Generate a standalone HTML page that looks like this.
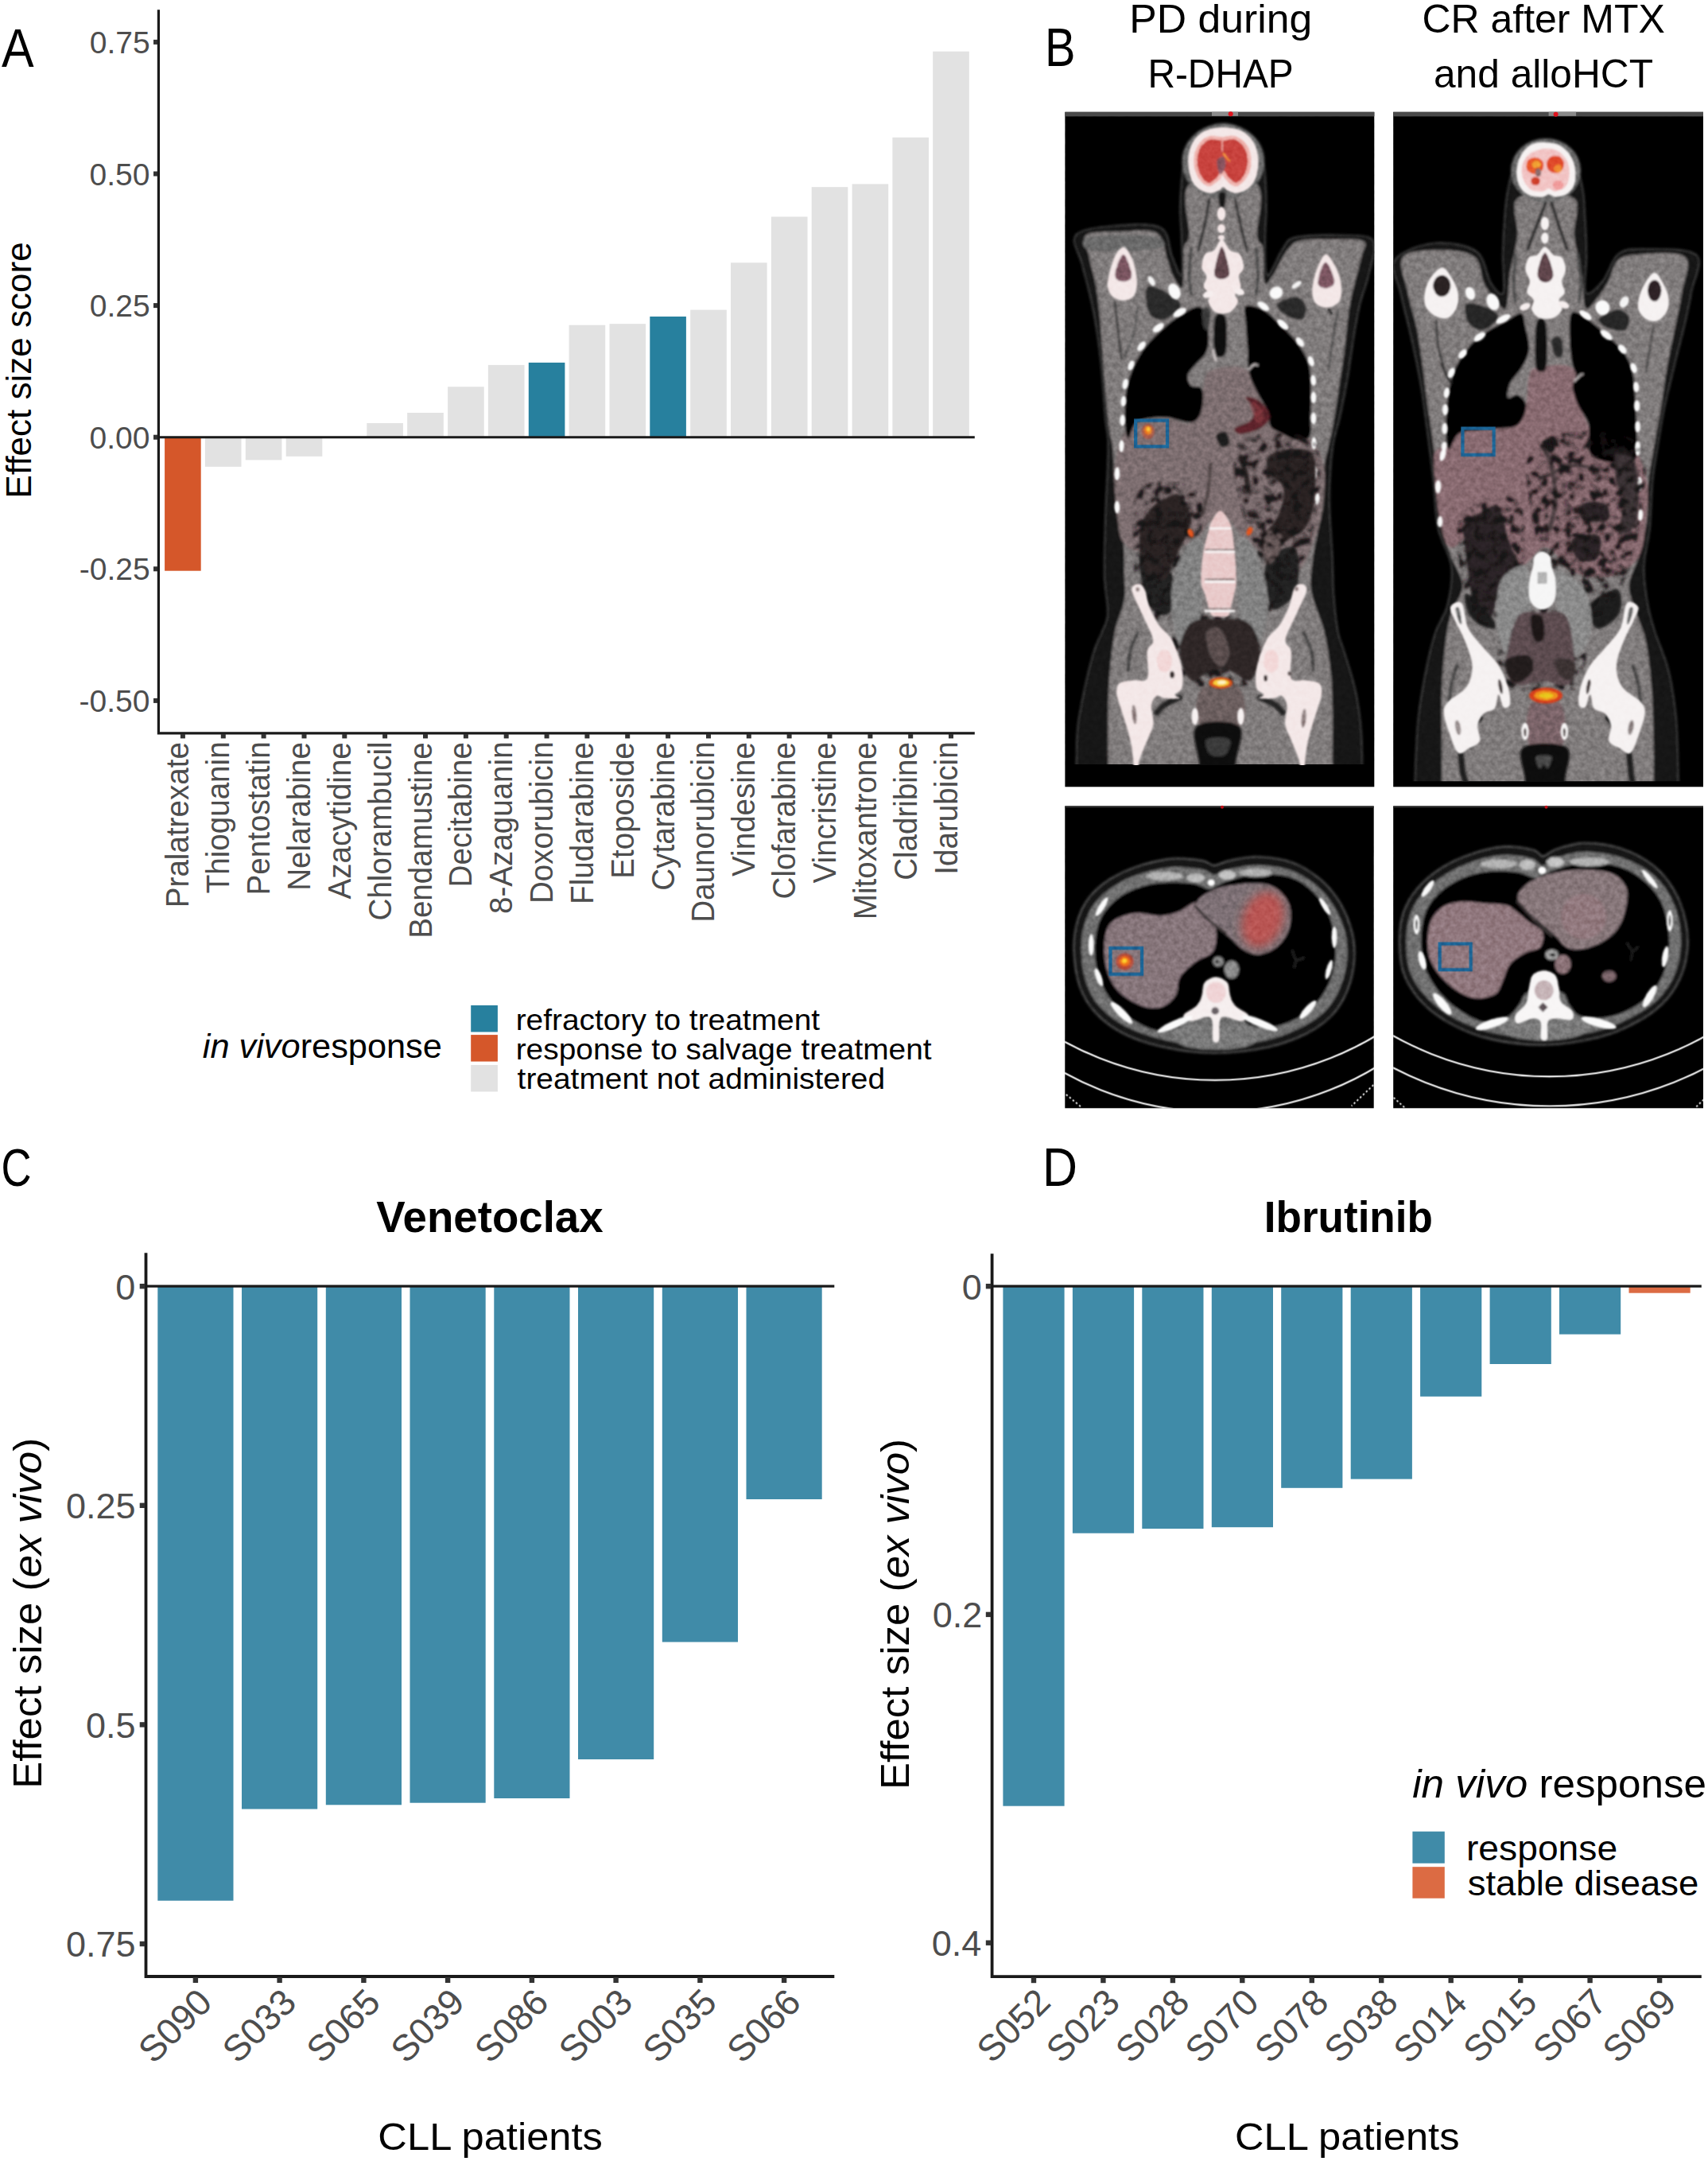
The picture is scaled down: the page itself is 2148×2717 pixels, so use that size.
<!DOCTYPE html>
<html lang="en"><head><meta charset="utf-8"><title>Figure</title>
<style>
html,body{margin:0;padding:0;background:#fff;}
body{width:2148px;height:2717px;overflow:hidden;}
svg{display:block;}
svg text{font-family:"Liberation Sans", Arial, sans-serif;}
</style></head><body>
<svg width="2148" height="2717" viewBox="0 0 2148 2717">
<rect width="2148" height="2717" fill="#fff"/>
<g id="panelA">
<rect x="207.1" y="549.7" width="45.6" height="168.0" fill="#d5572a"/>
<rect x="257.9" y="549.7" width="45.6" height="37.1" fill="#e2e2e2"/>
<rect x="308.8" y="549.7" width="45.6" height="28.7" fill="#e2e2e2"/>
<rect x="359.7" y="549.7" width="45.6" height="24.1" fill="#e2e2e2"/>
<rect x="461.3" y="532.0" width="45.6" height="17.7" fill="#e2e2e2"/>
<rect x="512.2" y="519.0" width="45.6" height="30.7" fill="#e2e2e2"/>
<rect x="563.1" y="486.3" width="45.6" height="63.4" fill="#e2e2e2"/>
<rect x="613.9" y="458.9" width="45.6" height="90.8" fill="#e2e2e2"/>
<rect x="664.8" y="455.9" width="45.6" height="93.8" fill="#27809e"/>
<rect x="715.6" y="408.7" width="45.6" height="141.0" fill="#e2e2e2"/>
<rect x="766.5" y="407.2" width="45.6" height="142.5" fill="#e2e2e2"/>
<rect x="817.3" y="398.0" width="45.6" height="151.7" fill="#27809e"/>
<rect x="868.2" y="389.6" width="45.6" height="160.1" fill="#e2e2e2"/>
<rect x="919.0" y="330.3" width="45.6" height="219.4" fill="#e2e2e2"/>
<rect x="969.9" y="272.5" width="45.6" height="277.2" fill="#e2e2e2"/>
<rect x="1020.7" y="235.2" width="45.6" height="314.5" fill="#e2e2e2"/>
<rect x="1071.6" y="231.4" width="45.6" height="318.3" fill="#e2e2e2"/>
<rect x="1122.4" y="172.8" width="45.6" height="376.9" fill="#e2e2e2"/>
<rect x="1173.2" y="64.7" width="45.6" height="485.0" fill="#e2e2e2"/>
<path d="M199.4 12.3 V921.8 H1225.8" fill="none" stroke="#1a1a1a" stroke-width="3.2"/>
<path d="M199.4 549.7 H1225.8" fill="none" stroke="#1a1a1a" stroke-width="3"/>
<rect x="193" y="49.9" width="5" height="6" fill="#333333"/>
<text transform="translate(112.70 67.00) scale(1.0000 1)" font-size="39" fill="#4d4d4d">0.75</text>
<rect x="193" y="215.5" width="5" height="6" fill="#333333"/>
<text transform="translate(112.59 232.60) scale(1.0000 1)" font-size="39" fill="#4d4d4d">0.50</text>
<rect x="193" y="381.1" width="5" height="6" fill="#333333"/>
<text transform="translate(112.70 398.20) scale(1.0000 1)" font-size="39" fill="#4d4d4d">0.25</text>
<rect x="193" y="546.7" width="5" height="6" fill="#333333"/>
<text transform="translate(112.59 563.80) scale(1.0000 1)" font-size="39" fill="#4d4d4d">0.00</text>
<rect x="193" y="712.3" width="5" height="6" fill="#333333"/>
<text transform="translate(99.72 729.40) scale(1.0000 1)" font-size="39" fill="#4d4d4d">-0.25</text>
<rect x="193" y="877.9" width="5" height="6" fill="#333333"/>
<text transform="translate(99.60 895.00) scale(1.0000 1)" font-size="39" fill="#4d4d4d">-0.50</text>
<rect x="226.9" y="922.8" width="6" height="5.6" fill="#333333"/>
<text transform="translate(237.40 1141.18) rotate(-90) scale(0.9530 1)" font-size="40.5" fill="#4d4d4d">Pralatrexate</text>
<rect x="277.8" y="922.8" width="6" height="5.6" fill="#333333"/>
<text transform="translate(288.25 1123.31) rotate(-90) scale(0.9530 1)" font-size="40.5" fill="#4d4d4d">Thioguanin</text>
<rect x="328.6" y="922.8" width="6" height="5.6" fill="#333333"/>
<text transform="translate(339.10 1125.43) rotate(-90) scale(0.9530 1)" font-size="40.5" fill="#4d4d4d">Pentostatin</text>
<rect x="379.5" y="922.8" width="6" height="5.6" fill="#333333"/>
<text transform="translate(389.95 1119.75) rotate(-90) scale(0.9530 1)" font-size="40.5" fill="#4d4d4d">Nelarabine</text>
<rect x="430.3" y="922.8" width="6" height="5.6" fill="#333333"/>
<text transform="translate(440.80 1130.48) rotate(-90) scale(0.9530 1)" font-size="40.5" fill="#4d4d4d">Azacytidine</text>
<rect x="481.1" y="922.8" width="6" height="5.6" fill="#333333"/>
<text transform="translate(491.65 1157.46) rotate(-90) scale(0.9530 1)" font-size="40.5" fill="#4d4d4d">Chlorambucil</text>
<rect x="532.0" y="922.8" width="6" height="5.6" fill="#333333"/>
<text transform="translate(542.50 1179.85) rotate(-90) scale(0.9530 1)" font-size="40.5" fill="#4d4d4d">Bendamustine</text>
<rect x="582.9" y="922.8" width="6" height="5.6" fill="#333333"/>
<text transform="translate(593.35 1115.47) rotate(-90) scale(0.9530 1)" font-size="40.5" fill="#4d4d4d">Decitabine</text>
<rect x="633.7" y="922.8" width="6" height="5.6" fill="#333333"/>
<text transform="translate(644.20 1149.05) rotate(-90) scale(0.9530 1)" font-size="40.5" fill="#4d4d4d">8-Azaguanin</text>
<rect x="684.6" y="922.8" width="6" height="5.6" fill="#333333"/>
<text transform="translate(695.05 1136.12) rotate(-90) scale(0.9530 1)" font-size="40.5" fill="#4d4d4d">Doxorubicin</text>
<rect x="735.4" y="922.8" width="6" height="5.6" fill="#333333"/>
<text transform="translate(745.90 1136.93) rotate(-90) scale(0.9530 1)" font-size="40.5" fill="#4d4d4d">Fludarabine</text>
<rect x="786.2" y="922.8" width="6" height="5.6" fill="#333333"/>
<text transform="translate(796.75 1104.78) rotate(-90) scale(0.9530 1)" font-size="40.5" fill="#4d4d4d">Etoposide</text>
<rect x="837.1" y="922.8" width="6" height="5.6" fill="#333333"/>
<text transform="translate(847.60 1119.75) rotate(-90) scale(0.9530 1)" font-size="40.5" fill="#4d4d4d">Cytarabine</text>
<rect x="888.0" y="922.8" width="6" height="5.6" fill="#333333"/>
<text transform="translate(898.45 1159.74) rotate(-90) scale(0.9530 1)" font-size="40.5" fill="#4d4d4d">Daunorubicin</text>
<rect x="938.8" y="922.8" width="6" height="5.6" fill="#333333"/>
<text transform="translate(949.30 1101.92) rotate(-90) scale(0.9530 1)" font-size="40.5" fill="#4d4d4d">Vindesine</text>
<rect x="989.6" y="922.8" width="6" height="5.6" fill="#333333"/>
<text transform="translate(1000.15 1130.48) rotate(-90) scale(0.9530 1)" font-size="40.5" fill="#4d4d4d">Clofarabine</text>
<rect x="1040.5" y="922.8" width="6" height="5.6" fill="#333333"/>
<text transform="translate(1051.00 1110.45) rotate(-90) scale(0.9530 1)" font-size="40.5" fill="#4d4d4d">Vincristine</text>
<rect x="1091.4" y="922.8" width="6" height="5.6" fill="#333333"/>
<text transform="translate(1101.85 1156.23) rotate(-90) scale(0.9530 1)" font-size="40.5" fill="#4d4d4d">Mitoxantrone</text>
<rect x="1142.2" y="922.8" width="6" height="5.6" fill="#333333"/>
<text transform="translate(1152.70 1106.86) rotate(-90) scale(0.9530 1)" font-size="40.5" fill="#4d4d4d">Cladribine</text>
<rect x="1193.0" y="922.8" width="6" height="5.6" fill="#333333"/>
<text transform="translate(1203.55 1099.68) rotate(-90) scale(0.9530 1)" font-size="40.5" fill="#4d4d4d">Idarubicin</text>
<text transform="translate(38.90 626.41) rotate(-90) scale(1.0120 1)" font-size="43.5" fill="#000">Effect size score</text>
<text transform="translate(254.81 1329.80) scale(1.0081 1)" font-size="43" fill="#000"><tspan font-style="italic">in vivo</tspan><tspan>response</tspan></text>
<rect x="592.2" y="1264.0" width="33.7" height="33.5" fill="#27809e"/>
<text transform="translate(648.63 1295.00) scale(1.0599 1)" font-size="36.7" fill="#000">refractory to treatment</text>
<rect x="592.2" y="1301.1" width="33.7" height="33.5" fill="#d5572a"/>
<text transform="translate(648.63 1332.00) scale(1.0599 1)" font-size="36.7" fill="#000">response to salvage treatment</text>
<rect x="592.2" y="1339.0" width="33.7" height="33.5" fill="#e2e2e2"/>
<text transform="translate(650.62 1369.00) scale(1.0599 1)" font-size="36.7" fill="#000">treatment not administered</text>
<text x="2" y="83.6" font-size="68.5" fill="#000" textLength="40.6" lengthAdjust="spacingAndGlyphs">A</text>
</g>
<g id="panelC">
<rect x="198.3" y="1617.2" width="95.2" height="772.5" fill="#408ba8"/>
<rect x="304.0" y="1617.2" width="95.2" height="657.3" fill="#408ba8"/>
<rect x="409.8" y="1617.2" width="95.2" height="652.1" fill="#408ba8"/>
<rect x="515.5" y="1617.2" width="95.2" height="649.5" fill="#408ba8"/>
<rect x="621.3" y="1617.2" width="95.2" height="643.8" fill="#408ba8"/>
<rect x="727.0" y="1617.2" width="95.2" height="594.8" fill="#408ba8"/>
<rect x="832.8" y="1617.2" width="95.2" height="447.3" fill="#408ba8"/>
<rect x="938.5" y="1617.2" width="95.2" height="267.8" fill="#408ba8"/>
<path d="M183.5 1575.2 V2485.0 H1049.3" fill="none" stroke="#1a1a1a" stroke-width="3.8"/>
<path d="M183.5 1617.2 H1049.3" fill="none" stroke="#1a1a1a" stroke-width="3.3"/>
<rect x="175.7" y="1614.0" width="6.5" height="6.4" fill="#333333"/>
<text transform="translate(145.29 1633.50) scale(1.0000 1)" font-size="45" fill="#4d4d4d">0</text>
<rect x="175.7" y="1889.6" width="6.5" height="6.4" fill="#333333"/>
<text transform="translate(82.88 1909.10) scale(1.0000 1)" font-size="45" fill="#4d4d4d">0.25</text>
<rect x="175.7" y="2165.2" width="6.5" height="6.4" fill="#333333"/>
<text transform="translate(107.89 2184.70) scale(1.0000 1)" font-size="45" fill="#4d4d4d">0.5</text>
<rect x="175.7" y="2440.8" width="6.5" height="6.4" fill="#333333"/>
<text transform="translate(82.88 2460.30) scale(1.0000 1)" font-size="45" fill="#4d4d4d">0.75</text>
<rect x="242.7" y="2486.0" width="6.4" height="7" fill="#333333"/>
<text transform="translate(193.19 2596.21) rotate(-45) scale(1.0000 1)" font-size="46" fill="#4d4d4d">S090</text>
<rect x="348.4" y="2486.0" width="6.4" height="7" fill="#333333"/>
<text transform="translate(299.10 2596.05) rotate(-45) scale(1.0000 1)" font-size="46" fill="#4d4d4d">S033</text>
<rect x="454.2" y="2486.0" width="6.4" height="7" fill="#333333"/>
<text transform="translate(404.78 2596.12) rotate(-45) scale(1.0000 1)" font-size="46" fill="#4d4d4d">S065</text>
<rect x="559.9" y="2486.0" width="6.4" height="7" fill="#333333"/>
<text transform="translate(510.73 2595.92) rotate(-45) scale(1.0000 1)" font-size="46" fill="#4d4d4d">S039</text>
<rect x="665.7" y="2486.0" width="6.4" height="7" fill="#333333"/>
<text transform="translate(616.35 2596.05) rotate(-45) scale(1.0000 1)" font-size="46" fill="#4d4d4d">S086</text>
<rect x="771.4" y="2486.0" width="6.4" height="7" fill="#333333"/>
<text transform="translate(722.10 2596.05) rotate(-45) scale(1.0000 1)" font-size="46" fill="#4d4d4d">S003</text>
<rect x="877.2" y="2486.0" width="6.4" height="7" fill="#333333"/>
<text transform="translate(827.78 2596.12) rotate(-45) scale(1.0000 1)" font-size="46" fill="#4d4d4d">S035</text>
<rect x="982.9" y="2486.0" width="6.4" height="7" fill="#333333"/>
<text transform="translate(933.60 2596.05) rotate(-45) scale(1.0000 1)" font-size="46" fill="#4d4d4d">S066</text>
<text transform="translate(473.17 1548.50) scale(0.9935 1)" font-size="55" fill="#000"><tspan font-weight="bold">Venetoclax</tspan></text>
<text transform="translate(475.37 2703.20) scale(1.0342 1)" font-size="49" fill="#000">CLL patients</text>
<text transform="translate(52.20 2248.78) rotate(-90) scale(1.0056 1)" font-size="50.7" fill="#000"><tspan>Effect size (</tspan><tspan font-style="italic">ex vivo</tspan><tspan>)</tspan></text>
<text x="1.5" y="1490.6" font-size="67" fill="#000" textLength="38" lengthAdjust="spacingAndGlyphs">C</text>
</g>
<g id="panelD">
<rect x="1261.4" y="1617.2" width="77.2" height="653.5" fill="#408ba8"/>
<rect x="1348.9" y="1617.2" width="77.2" height="310.5" fill="#408ba8"/>
<rect x="1436.3" y="1617.2" width="77.2" height="304.8" fill="#408ba8"/>
<rect x="1523.8" y="1617.2" width="77.2" height="303.0" fill="#408ba8"/>
<rect x="1611.2" y="1617.2" width="77.2" height="253.6" fill="#408ba8"/>
<rect x="1698.7" y="1617.2" width="77.2" height="242.4" fill="#408ba8"/>
<rect x="1786.1" y="1617.2" width="77.2" height="138.6" fill="#408ba8"/>
<rect x="1873.6" y="1617.2" width="77.2" height="97.8" fill="#408ba8"/>
<rect x="1961.0" y="1617.2" width="77.2" height="60.4" fill="#408ba8"/>
<rect x="2048.5" y="1617.2" width="77.2" height="8.5" fill="#dc6b43"/>
<path d="M1247.6 1576.3 V2485.2 H2139.8" fill="none" stroke="#1a1a1a" stroke-width="3.8"/>
<path d="M1247.6 1617.2 H2139.8" fill="none" stroke="#1a1a1a" stroke-width="3.3"/>
<rect x="1239.8" y="1614.0" width="6.5" height="6.4" fill="#333333"/>
<text transform="translate(1209.69 1633.50) scale(1.0000 1)" font-size="45" fill="#4d4d4d">0</text>
<rect x="1239.8" y="2026.7" width="6.5" height="6.4" fill="#333333"/>
<text transform="translate(1172.70 2046.20) scale(1.0000 1)" font-size="45" fill="#4d4d4d">0.2</text>
<rect x="1239.8" y="2439.5" width="6.5" height="6.4" fill="#333333"/>
<text transform="translate(1171.76 2459.00) scale(1.0000 1)" font-size="45" fill="#4d4d4d">0.4</text>
<rect x="1296.8" y="2486.2" width="6.4" height="7" fill="#333333"/>
<text transform="translate(1247.68 2595.82) rotate(-45) scale(1.0000 1)" font-size="46" fill="#4d4d4d">S052</text>
<rect x="1384.2" y="2486.2" width="6.4" height="7" fill="#333333"/>
<text transform="translate(1334.90 2596.05) rotate(-45) scale(1.0000 1)" font-size="46" fill="#4d4d4d">S023</text>
<rect x="1471.7" y="2486.2" width="6.4" height="7" fill="#333333"/>
<text transform="translate(1422.35 2596.05) rotate(-45) scale(1.0000 1)" font-size="46" fill="#4d4d4d">S028</text>
<rect x="1559.1" y="2486.2" width="6.4" height="7" fill="#333333"/>
<text transform="translate(1509.64 2596.21) rotate(-45) scale(1.0000 1)" font-size="46" fill="#4d4d4d">S070</text>
<rect x="1646.6" y="2486.2" width="6.4" height="7" fill="#333333"/>
<text transform="translate(1597.25 2596.05) rotate(-45) scale(1.0000 1)" font-size="46" fill="#4d4d4d">S078</text>
<rect x="1734.0" y="2486.2" width="6.4" height="7" fill="#333333"/>
<text transform="translate(1684.70 2596.05) rotate(-45) scale(1.0000 1)" font-size="46" fill="#4d4d4d">S038</text>
<rect x="1821.5" y="2486.2" width="6.4" height="7" fill="#333333"/>
<text transform="translate(1771.69 2596.51) rotate(-45) scale(1.0000 1)" font-size="46" fill="#4d4d4d">S014</text>
<rect x="1909.0" y="2486.2" width="6.4" height="7" fill="#333333"/>
<text transform="translate(1859.53 2596.12) rotate(-45) scale(1.0000 1)" font-size="46" fill="#4d4d4d">S015</text>
<rect x="1996.4" y="2486.2" width="6.4" height="7" fill="#333333"/>
<text transform="translate(1947.28 2595.82) rotate(-45) scale(1.0000 1)" font-size="46" fill="#4d4d4d">S067</text>
<rect x="2083.9" y="2486.2" width="6.4" height="7" fill="#333333"/>
<text transform="translate(2034.63 2595.92) rotate(-45) scale(1.0000 1)" font-size="46" fill="#4d4d4d">S069</text>
<text transform="translate(1589.80 1549.00) scale(0.9647 1)" font-size="55" fill="#000"><tspan font-weight="bold">Ibrutinib</tspan></text>
<text transform="translate(1552.97 2703.20) scale(1.0342 1)" font-size="49" fill="#000">CLL patients</text>
<text transform="translate(1143.30 2249.88) rotate(-90) scale(1.0056 1)" font-size="50.7" fill="#000"><tspan>Effect size (</tspan><tspan font-style="italic">ex vivo</tspan><tspan>)</tspan></text>
<text transform="translate(1776.18 2260.20) scale(1.0099 1)" font-size="50.7" fill="#000"><tspan font-style="italic">in vivo</tspan><tspan xml:space="preserve"> response</tspan></text>
<rect x="1776.4" y="2302.7" width="40.4" height="40" fill="#408ba8"/>
<rect x="1776.4" y="2347.2" width="40.4" height="39.5" fill="#dc6b43"/>
<text transform="translate(1843.95 2338.60) scale(1.0512 1)" font-size="44" fill="#000">response</text>
<text transform="translate(1845.77 2382.90) scale(1.0332 1)" font-size="44" fill="#000">stable disease</text>
<text x="1311" y="1490.6" font-size="68" fill="#000" textLength="44" lengthAdjust="spacingAndGlyphs">D</text>
</g>
<g id="panelB">
<text x="1314" y="83.2" font-size="68.5" fill="#000" textLength="38.5" lengthAdjust="spacingAndGlyphs">B</text>
<text transform="translate(1420.26 41.10) scale(1.0346 1)" font-size="50" fill="#000">PD during</text>
<text transform="translate(1443.38 110.40) scale(0.9568 1)" font-size="50" fill="#000">R-DHAP</text>
<text transform="translate(1788.50 41.10) scale(0.9992 1)" font-size="50" fill="#000">CR after MTX</text>
<text transform="translate(1802.91 110.40) scale(0.9940 1)" font-size="50" fill="#000">and alloHCT</text>
<defs>
<filter id="bl4" x="-5%" y="-5%" width="110%" height="110%"><feGaussianBlur stdDeviation="6"/></filter>
<filter id="bl20" x="-30%" y="-30%" width="160%" height="160%"><feGaussianBlur stdDeviation="22"/></filter>
<filter id="bl2" x="-5%" y="-5%" width="110%" height="110%"><feGaussianBlur stdDeviation="3.5"/></filter>
<filter id="noise" x="0" y="0" width="100%" height="100%" color-interpolation-filters="sRGB">
<feTurbulence type="fractalNoise" baseFrequency="0.16" numOctaves="2" seed="7" result="n"/>
<feColorMatrix in="n" type="matrix" values="0.7 0 0 0 0.15  0.7 0 0 0 0.15  0.7 0 0 0 0.15  0 0 0 0 1"/>
</filter>
<clipPath id="clipTL"><rect x="39" y="68" width="1620" height="3394"/></clipPath>
<clipPath id="clipTR"><rect x="43" y="68" width="1640" height="3517"/></clipPath>
<clipPath id="clipBL"><rect x="38.7" y="35.4" width="1618" height="1582.2"/></clipPath>
<clipPath id="clipBR"><rect x="43" y="35.7" width="1640" height="1597.8"/></clipPath>
<filter id="mottle" x="0" y="0" width="100%" height="100%" color-interpolation-filters="sRGB">
<feTurbulence type="fractalNoise" baseFrequency="0.022" numOctaves="3" seed="11" result="t"/>
<feColorMatrix in="t" type="matrix" values="0 0 0 0 0.09  0 0 0 0 0.07  0 0 0 0 0.075  6 0 0 0 -2.9" result="m"/>
<feComposite in="m" in2="SourceGraphic" operator="in" result="c"/>
<feGaussianBlur in="c" stdDeviation="3"/>
</filter>
</defs>

<rect x="1339.4" y="140.8" width="388.9" height="848.5" fill="#000"/>
<rect x="1339.4" y="140.8" width="388.9" height="5.6" fill="#4a4a4a"/>
<rect x="1524" y="140.8" width="33" height="5" fill="#8c8c8c"/>
<circle cx="1547.7" cy="143.2" r="3" fill="#e0141e"/>
<g transform="translate(1330 130) scale(0.24004)" clip-path="url(#clipTL)">
<g filter="url(#bl4)">
<path d="M95 690 C123 655 226 647 300 640 C374 633 490 623 540 650 C590 677 582 758 600 800 C618 842 642 913 650 900 C658 887 651 777 650 720 C649 663 642 613 642 560 C642 507 646 448 650 400 C654 352 657 307 668 270 C679 233 695 204 715 180 C735 156 764 138 790 125 C816 112 841 105 868 105 C895 105 924 112 950 125 C976 138 1005 156 1025 180 C1045 204 1061 233 1072 270 C1083 307 1086 352 1090 400 C1094 448 1094 507 1094 560 C1094 613 1087 663 1088 720 C1089 777 1085 893 1100 900 C1115 907 1155 793 1180 760 C1205 727 1197 712 1250 700 C1303 688 1432 687 1500 690 C1568 693 1633 685 1655 720 C1677 755 1642 845 1630 900 C1618 955 1599 992 1585 1050 C1571 1108 1559 1183 1548 1250 C1537 1317 1530 1383 1518 1450 C1506 1517 1491 1592 1478 1650 C1465 1708 1451 1730 1442 1800 C1433 1870 1425 1975 1425 2070 C1425 2165 1436 2287 1440 2370 C1444 2453 1442 2503 1447 2570 C1452 2637 1461 2720 1470 2770 C1479 2820 1487 2820 1502 2870 C1517 2920 1545 3003 1560 3070 C1575 3137 1584 3205 1590 3270 C1596 3335 1595 3407 1597 3462 C1599 3517 1600 3544 1600 3600 C1600 3656 1851 3767 1600 3800 C1349 3833 346 3833 95 3800 C-156 3767 94 3656 95 3600 C96 3544 96 3517 98 3462 C100 3407 98 3335 105 3270 C112 3205 126 3137 140 3070 C154 3003 175 2920 190 2870 C205 2820 220 2803 232 2770 C244 2737 260 2720 262 2670 C264 2620 247 2553 245 2470 C243 2387 247 2282 250 2170 C253 2058 265 1887 265 1800 C265 1713 257 1727 250 1650 C243 1573 236 1436 225 1340 C214 1244 201 1157 185 1075 C169 993 145 914 130 850 C115 786 67 725 95 690 Z" fill="#141414" stroke="#484848" stroke-width="6"/>
<path d="M150 690 C178 669 268 674 330 672 C392 670 479 655 520 680 C561 705 561 782 575 820 C589 858 592 882 605 905 C618 928 646 984 655 960 C664 936 656 805 662 760 C668 715 684 747 690 690 C696 633 637 465 695 420 C753 375 982 375 1040 420 C1098 465 1039 633 1045 690 C1051 747 1069 718 1076 760 C1083 802 1076 917 1085 940 C1094 963 1112 925 1130 900 C1148 875 1168 820 1190 790 C1212 760 1222 735 1262 722 C1302 709 1373 712 1430 712 C1487 712 1575 706 1602 722 C1629 738 1602 755 1590 810 C1578 865 1547 968 1532 1050 C1517 1132 1512 1225 1502 1300 C1492 1375 1482 1433 1472 1500 C1462 1567 1450 1648 1440 1700 C1430 1752 1422 1779 1415 1812 C1408 1845 1402 1852 1398 1900 C1394 1948 1398 2042 1392 2100 C1386 2158 1372 2200 1362 2250 C1352 2300 1340 2348 1335 2400 C1330 2452 1320 2500 1330 2560 C1340 2620 1378 2692 1395 2760 C1412 2828 1422 2902 1430 2970 C1438 3038 1438 3088 1440 3170 C1442 3252 1440 3390 1440 3462 C1440 3534 1440 3544 1440 3600 C1440 3656 1636 3767 1440 3800 C1244 3833 461 3833 265 3800 C69 3767 265 3656 265 3600 C265 3544 265 3534 265 3462 C265 3390 263 3252 265 3170 C267 3088 269 3037 275 2970 C281 2903 288 2832 300 2770 C312 2708 342 2650 350 2600 C358 2550 351 2520 350 2470 C349 2420 351 2350 345 2300 C339 2250 322 2220 315 2170 C308 2120 304 2060 300 2000 C296 1940 295 1862 290 1812 C285 1762 277 1752 270 1700 C263 1648 256 1567 250 1500 C244 1433 240 1367 235 1300 C230 1233 226 1158 220 1100 C214 1042 209 1000 200 950 C191 900 173 843 165 800 C157 757 122 711 150 690 Z" fill="#807c7c" />
<ellipse cx="868" cy="303" rx="216" ry="196" fill="#6c6c6c" />
<path d="M370 1700 C413 1658 505 1653 560 1648 C615 1643 667 1697 700 1672 C733 1647 743 1545 760 1500 C777 1455 760 1417 800 1400 C840 1383 950 1358 1000 1400 C1050 1442 1058 1590 1100 1650 C1142 1710 1212 1742 1250 1760 C1288 1778 1306 1737 1330 1760 C1354 1783 1385 1843 1395 1900 C1405 1957 1399 2033 1390 2100 C1381 2167 1365 2242 1340 2300 C1315 2358 1297 2450 1240 2450 C1183 2450 1065 2350 1000 2300 C935 2250 900 2150 850 2150 C800 2150 767 2267 700 2300 C633 2333 509 2350 450 2350 C391 2350 368 2330 345 2300 C322 2270 322 2237 315 2170 C308 2103 291 1978 300 1900 C309 1822 327 1742 370 1700 Z" fill="#7d6e70" />
<path d="M745 1065 C721 1058 673 1090 640 1110 C607 1130 576 1157 545 1185 C514 1213 480 1247 455 1280 C430 1313 410 1350 395 1385 C380 1420 369 1454 362 1490 C355 1526 353 1565 352 1600 C351 1635 351 1675 354 1700 C357 1725 361 1757 372 1752 C383 1747 389 1686 420 1668 C451 1650 515 1644 560 1645 C605 1646 660 1673 690 1672 C720 1671 730 1659 742 1640 C754 1621 760 1585 762 1560 C764 1535 765 1506 755 1492 C745 1478 712 1489 700 1478 C688 1467 679 1443 683 1425 C687 1407 706 1389 722 1370 C738 1351 764 1332 776 1310 C788 1288 791 1267 792 1240 C793 1213 790 1179 782 1150 C774 1121 769 1072 745 1065 Z" fill="#000" />
<path d="M985 1062 C1001 1051 1048 1064 1080 1082 C1112 1100 1149 1140 1180 1170 C1211 1200 1242 1232 1265 1265 C1288 1298 1308 1331 1318 1370 C1328 1409 1327 1453 1328 1500 C1329 1547 1327 1609 1326 1650 C1325 1691 1333 1729 1320 1748 C1307 1767 1273 1765 1250 1762 C1227 1759 1202 1744 1180 1732 C1158 1720 1128 1711 1115 1692 C1102 1673 1114 1645 1105 1620 C1096 1595 1076 1570 1060 1540 C1044 1510 1022 1468 1012 1440 C1002 1412 1001 1393 998 1370 C995 1347 998 1337 996 1300 C994 1263 988 1190 986 1150 C984 1110 969 1073 985 1062 Z" fill="#000" />
<path d="M825 1120 C835 1092 870 1092 880 1120 C890 1148 890 1255 885 1290 C880 1325 861 1330 850 1330 C839 1330 824 1325 820 1290 C816 1255 815 1148 825 1120 Z" fill="#111" />
<path d="M760 1080 C766 1065 795 1063 800 1080 C805 1097 796 1165 790 1180 C784 1195 770 1187 765 1170 C760 1153 754 1095 760 1080 Z" fill="#3a3a3a" />
<path d="M815 1290 L828 1345" fill="none" stroke="#e8e0e0" stroke-width="9" stroke-linecap="round" stroke-linejoin="round" />
<path d="M1000 1395 C1005 1390 1022 1372 1030 1368 C1038 1364 1045 1371 1048 1372" fill="none" stroke="#d8d0d0" stroke-width="8" stroke-linecap="round" stroke-linejoin="round" />
<path d="M985 1540 C990 1533 1039 1543 1060 1560 C1081 1577 1112 1616 1112 1640 C1112 1664 1087 1687 1062 1702 C1037 1717 982 1732 960 1732 C938 1732 920 1714 928 1702 C936 1690 993 1679 1010 1662 C1027 1645 1036 1620 1032 1600 C1028 1580 980 1547 985 1540 Z" fill="#5c2429" />
<path d="M1010 1570 C1015 1562 1048 1578 1060 1590 C1072 1602 1087 1625 1085 1640 C1083 1655 1059 1680 1050 1680 C1041 1680 1037 1658 1030 1640 C1023 1622 1005 1578 1010 1570 Z" fill="#8a3a42" opacity="0.6"/>
<path d="M830 1740 C833 1727 868 1713 880 1720 C892 1727 903 1767 900 1780 C897 1793 872 1807 860 1800 C848 1793 827 1753 830 1740 Z" fill="#1a1a1a" />
<path d="M795 500 C791 523 780 595 770 640 C760 685 743 748 738 770" fill="none" stroke="#2c2c2c" stroke-width="14" stroke-linecap="round" stroke-linejoin="round" />
<path d="M930 500 C935 523 950 595 960 640 C970 685 987 748 992 770" fill="none" stroke="#2c2c2c" stroke-width="14" stroke-linecap="round" stroke-linejoin="round" />
<path d="M845 470 C850 458 875 458 880 470 C885 482 880 532 875 545 C870 558 855 558 850 545 C845 532 840 482 845 470 Z" fill="#151515" />
<path d="M700 760 C698 783 690 860 690 900 C690 940 698 983 700 1000" fill="none" stroke="#4a4a4a" stroke-width="16" stroke-linecap="round" stroke-linejoin="round" />
<path d="M1040 760 C1042 783 1050 860 1050 900 C1050 940 1042 983 1040 1000" fill="none" stroke="#4a4a4a" stroke-width="16" stroke-linecap="round" stroke-linejoin="round" />
<path d="M470 960 C488 943 561 983 590 1000 C619 1017 650 1040 645 1062 C640 1084 588 1126 560 1132 C532 1138 495 1129 480 1100 C465 1071 452 977 470 960 Z" fill="#2a2a2a" />
<path d="M1150 1052 C1158 1035 1225 1010 1250 1012 C1275 1014 1297 1042 1302 1062 C1307 1082 1299 1124 1282 1132 C1265 1140 1222 1125 1200 1112 C1178 1099 1142 1069 1150 1052 Z" fill="#2a2a2a" />
<path d="M300 1040 C303 1067 312 1150 318 1200 C324 1250 332 1317 335 1340" fill="none" stroke="#3a3a3a" stroke-width="12" stroke-linecap="round" stroke-linejoin="round" />
<path d="M1470 1080 C1465 1108 1448 1197 1440 1250 C1432 1303 1423 1375 1420 1400" fill="none" stroke="#4a4a4a" stroke-width="10" stroke-linecap="round" stroke-linejoin="round" />
<path d="M420 1060 C417 1083 412 1155 400 1200 C388 1245 358 1308 350 1330" fill="none" stroke="#555" stroke-width="10" stroke-linecap="round" stroke-linejoin="round" />
<path d="M170 700 C223 688 440 685 500 695 C560 705 583 748 530 760 C477 772 240 780 180 770 C120 760 117 712 170 700 Z" fill="#6a6a6a" />
</g>
<g filter="url(#bl2)">
<path d="M868 125 C899 125 934 130 960 142 C986 154 1010 175 1025 200 C1040 225 1050 259 1052 290 C1054 321 1049 359 1040 385 C1031 411 1017 431 1000 445 C983 459 958 468 940 470 C922 472 902 460 890 455 C878 450 875 438 868 438 C861 438 858 450 846 455 C834 460 814 472 795 470 C776 468 752 459 735 445 C718 431 704 411 696 385 C688 359 682 321 684 290 C686 259 695 225 710 200 C725 175 749 154 775 142 C801 130 837 125 868 125 Z" fill="#f4e8e8" />
<path d="M862 185 C884 185 910 173 930 180 C950 187 972 205 985 225 C998 245 1005 274 1005 300 C1005 326 997 359 985 380 C973 401 951 422 935 425 C919 428 902 406 890 395 C878 384 873 360 865 360 C857 360 852 384 840 395 C828 406 806 428 790 425 C774 422 753 401 742 380 C731 359 722 326 722 300 C722 274 730 245 742 225 C754 205 775 187 795 180 C815 173 840 185 862 185 Z" fill="#c8433c" stroke="#f0b4ae" stroke-width="18"/>
<path d="M835 300 C838 285 862 275 870 280 C878 285 883 315 880 330 C877 345 858 375 850 370 C842 365 832 315 835 300 Z" fill="#8a5560" />
<path d="M870 262 C872 266 880 279 885 285 C890 291 898 298 900 300" fill="none" stroke="#f08a3a" stroke-width="10" stroke-linecap="round" stroke-linejoin="round" />
<path d="M862 190 L862 250" fill="none" stroke="#e89a94" stroke-width="8" stroke-linecap="round" stroke-linejoin="round" />
<ellipse cx="858" cy="578" rx="22" ry="36" fill="#f4e8e8" />
<ellipse cx="858" cy="655" rx="21" ry="24" fill="#f4e8e8" />
<ellipse cx="858" cy="702" rx="17" ry="14" fill="#f4e8e8" />
<path d="M860 712 C874 712 889 757 905 770 C921 783 943 775 955 790 C967 805 976 841 975 860 C974 879 952 888 950 905 C948 922 963 944 960 960 C957 976 932 987 930 1000 C928 1013 950 1024 945 1040 C940 1056 919 1086 900 1095 C881 1104 848 1104 830 1095 C812 1086 795 1056 790 1040 C785 1024 804 1013 800 1000 C796 987 768 976 765 960 C762 944 782 922 780 905 C778 888 756 879 755 860 C754 841 762 805 772 790 C782 775 803 783 818 770 C833 757 846 712 860 712 Z" fill="#f4e8e8" />
<path d="M860 752 C873 752 897 853 900 880 C903 907 890 909 880 915 C870 921 848 921 838 915 C828 909 818 907 822 880 C826 853 847 752 860 752 Z" fill="#5e444c" />
<ellipse cx="790" cy="1000" rx="30" ry="18" fill="#f6eeee" transform="rotate(-20 790 1000)" />
<ellipse cx="950" cy="985" rx="30" ry="18" fill="#f6eeee" transform="rotate(20 950 985)" />
<ellipse cx="612" cy="985" rx="30" ry="44" fill="#fafafa" transform="rotate(-25 612 985)" />
<ellipse cx="492" cy="930" rx="15" ry="28" fill="#f4f4f4" transform="rotate(-30 492 930)" />
<ellipse cx="1145" cy="992" rx="36" ry="32" fill="#fafafa" transform="rotate(-30 1145 992)" />
<ellipse cx="1252" cy="950" rx="30" ry="13" fill="#f4f4f4" transform="rotate(-35 1252 950)" />
<path d="M345 752 C359 752 374 780 385 800 C396 820 403 845 408 870 C413 895 418 927 416 950 C414 973 410 996 398 1010 C386 1024 363 1032 345 1032 C327 1032 302 1024 288 1012 C274 1000 265 980 262 960 C259 940 264 922 270 895 C276 868 288 824 300 800 C312 776 331 752 345 752 Z" fill="#f4e8e8" />
<path d="M345 792 C356 792 369 830 376 850 C383 870 391 898 386 912 C381 926 359 932 345 932 C331 932 310 926 304 912 C298 898 305 870 312 850 C319 830 334 792 345 792 Z" fill="#7a5561" />
<path d="M1405 790 C1419 788 1436 820 1448 840 C1460 860 1471 886 1478 910 C1485 934 1489 962 1488 985 C1487 1008 1483 1031 1470 1045 C1457 1059 1431 1069 1412 1070 C1393 1071 1368 1062 1355 1050 C1342 1038 1336 1015 1334 995 C1332 975 1335 954 1340 930 C1345 906 1354 873 1365 850 C1376 827 1391 792 1405 790 Z" fill="#f4e8e8" />
<path d="M1405 832 C1416 832 1431 869 1438 888 C1445 907 1454 932 1448 945 C1442 958 1419 968 1405 968 C1391 968 1371 961 1366 948 C1361 935 1368 907 1374 888 C1380 869 1394 832 1405 832 Z" fill="#7a5561" />
<path d="M1420 1075 L1435 1100" fill="none" stroke="#222" stroke-width="10" stroke-linecap="round" stroke-linejoin="round" />
<ellipse cx="640" cy="1095" rx="38" ry="18" fill="#fbfbfb" transform="rotate(-30 640 1095)" />
<ellipse cx="528" cy="1175" rx="34" ry="17" fill="#fbfbfb" transform="rotate(-37 528 1175)" />
<ellipse cx="440" cy="1272" rx="29" ry="16" fill="#fbfbfb" transform="rotate(-52 440 1272)" />
<ellipse cx="385" cy="1372" rx="27" ry="15" fill="#fbfbfb" transform="rotate(-68 385 1372)" />
<ellipse cx="355" cy="1470" rx="28" ry="15" fill="#fbfbfb" transform="rotate(-80 355 1470)" />
<ellipse cx="345" cy="1560" rx="28" ry="14" fill="#fbfbfb" transform="rotate(-86 345 1560)" />
<ellipse cx="340" cy="1660" rx="30" ry="14" fill="#fbfbfb" transform="rotate(-88 340 1660)" />
<ellipse cx="335" cy="1795" rx="32" ry="13" fill="#fbfbfb" transform="rotate(-88 335 1795)" />
<ellipse cx="312" cy="1940" rx="35" ry="14" fill="#fbfbfb" transform="rotate(-88 312 1940)" />
<ellipse cx="312" cy="2115" rx="33" ry="14" fill="#fbfbfb" transform="rotate(-90 312 2115)" />
<ellipse cx="1078" cy="1062" rx="36" ry="17" fill="#fbfbfb" transform="rotate(35 1078 1062)" />
<ellipse cx="1180" cy="1158" rx="36" ry="17" fill="#fbfbfb" transform="rotate(42 1180 1158)" />
<ellipse cx="1270" cy="1250" rx="29" ry="16" fill="#fbfbfb" transform="rotate(52 1270 1250)" />
<ellipse cx="1328" cy="1350" rx="28" ry="15" fill="#fbfbfb" transform="rotate(70 1328 1350)" />
<ellipse cx="1340" cy="1450" rx="28" ry="14" fill="#fbfbfb" transform="rotate(85 1340 1450)" />
<ellipse cx="1341" cy="1540" rx="30" ry="14" fill="#fbfbfb" transform="rotate(90 1341 1540)" />
<ellipse cx="1341" cy="1650" rx="30" ry="14" fill="#fbfbfb" transform="rotate(90 1341 1650)" />
<ellipse cx="1343" cy="1780" rx="32" ry="13" fill="#fbfbfb" transform="rotate(90 1343 1780)" />
<ellipse cx="1346" cy="1935" rx="35" ry="14" fill="#fbfbfb" transform="rotate(92 1346 1935)" />
<ellipse cx="1360" cy="2070" rx="30" ry="13" fill="#fbfbfb" transform="rotate(95 1360 2070)" />
</g>
<g filter="url(#bl4)">
<path d="M440 2331 C465 2317 573 2417 600 2471 C627 2524 613 2617 600 2651 C587 2684 545 2687 520 2671 C495 2654 463 2607 450 2551 C437 2494 415 2344 440 2331 Z" fill="#222" />
<path d="M1100 2391 C1124 2351 1220 2304 1245 2331 C1270 2357 1270 2497 1252 2551 C1234 2604 1166 2647 1140 2651 C1114 2654 1105 2614 1098 2571 C1091 2527 1076 2431 1100 2391 Z" fill="#222" />
<path d="M1130 1831 C1168 1816 1294 1791 1330 1831 C1366 1871 1350 2006 1345 2071 C1340 2136 1324 2184 1300 2221 C1276 2257 1232 2266 1200 2291 C1168 2316 1133 2371 1110 2371 C1087 2371 1053 2324 1060 2291 C1067 2257 1129 2216 1150 2171 C1171 2126 1193 2062 1185 2021 C1177 1979 1109 1952 1100 1921 C1091 1889 1092 1846 1130 1831 Z" fill="#2b2424" />
<path d="M960 1851 C964 1866 978 1911 985 1941 C992 1971 998 2016 1000 2031" fill="none" stroke="#2a2424" stroke-width="26" stroke-linecap="round" stroke-linejoin="round" />
<path d="M560 2071 C583 2061 617 2036 640 2053 C663 2069 696 2131 700 2171 C704 2210 679 2251 662 2291 C645 2331 617 2377 600 2411 C583 2444 584 2481 562 2491 C540 2501 492 2497 470 2471 C448 2444 435 2376 430 2331 C425 2286 428 2237 440 2201 C452 2164 480 2132 500 2111 C520 2089 537 2080 560 2071 Z" fill="#2b2424" />
<path d="M1090 2251 C1105 2227 1170 2251 1180 2271 C1190 2291 1165 2347 1150 2371 C1135 2394 1100 2431 1090 2411 C1080 2391 1075 2274 1090 2251 Z" fill="#6b5c5c" />
<path d="M800 1891 C798 1912 797 1977 790 2021 C783 2064 765 2129 760 2151" fill="none" stroke="#4a4040" stroke-width="16" stroke-linecap="round" stroke-linejoin="round" />
<path d="M430 2021 C483 1962 668 1976 720 2021 C772 2066 762 2182 745 2291 C728 2399 671 2607 620 2671 C569 2734 477 2721 440 2671 C403 2621 402 2479 400 2371 C398 2262 377 2079 430 2021 Z" fill="#000" filter="url(#mottle)"/>
<path d="M960 1771 C1025 1721 1275 1704 1340 1771 C1405 1837 1365 2054 1350 2171 C1335 2287 1292 2387 1250 2471 C1208 2554 1133 2687 1100 2671 C1067 2654 1075 2471 1050 2371 C1025 2271 965 2171 950 2071 C935 1971 895 1821 960 1771 Z" fill="#000" filter="url(#mottle)"/>
<path d="M650 2701 C718 2647 982 2647 1050 2701 C1118 2754 1128 2967 1060 3021 C992 3074 708 3074 640 3021 C572 2967 582 2754 650 2701 Z" fill="#000" filter="url(#mottle)"/>
<path d="M700 2291 C726 2267 756 2267 765 2331 C774 2394 763 2597 752 2671 C741 2744 719 2744 700 2771 C681 2798 657 2849 640 2833 C623 2816 603 2731 598 2671 C593 2610 593 2534 610 2471 C627 2407 674 2314 700 2291 Z" fill="#828282" />
<path d="M940 2331 C949 2267 978 2267 1002 2291 C1026 2314 1065 2411 1082 2471 C1099 2531 1105 2594 1102 2651 C1099 2708 1079 2793 1062 2813 C1045 2833 1019 2794 1000 2771 C981 2747 960 2744 950 2671 C940 2597 931 2394 940 2331 Z" fill="#828282" />
<path d="M700 2721 C735 2692 800 2701 850 2701 C900 2701 965 2692 1000 2721 C1035 2749 1060 2821 1062 2871 C1064 2921 1037 3004 1010 3021 C983 3037 935 2979 900 2971 C865 2962 833 2962 800 2971 C767 2979 727 3039 700 3023 C673 3006 640 2921 640 2871 C640 2820 665 2749 700 2721 Z" fill="#2e2828" />
<path d="M780 2771 C788 2747 830 2734 850 2751 C870 2767 898 2837 900 2871 C902 2904 877 2947 860 2951 C843 2954 813 2921 800 2891 C787 2861 772 2794 780 2771 Z" fill="#5a4e4e" />
<path d="M760 3061 C794 3029 916 3029 950 3061 C984 3092 999 3219 965 3251 C931 3282 779 3282 745 3251 C711 3219 726 3092 760 3061 Z" fill="#6c5e5e" />
<path d="M728 3263 C763 3229 918 3229 952 3263 C986 3296 936 3395 932 3463 C928 3531 961 3636 930 3671 C899 3705 776 3705 745 3671 C714 3636 745 3531 742 3463 C739 3395 693 3296 728 3263 Z" fill="#0c0c0c" />
<path d="M780 3331 C797 3317 883 3317 900 3331 C917 3344 897 3397 880 3411 C863 3424 817 3424 800 3411 C783 3397 763 3344 780 3331 Z" fill="#3a3a3a" />
<path d="M420 2771 C413 2787 388 2837 380 2871 C372 2904 372 2954 370 2971" fill="none" stroke="#3c3c3c" stroke-width="14" stroke-linecap="round" stroke-linejoin="round" />
<path d="M1290 2771 C1297 2787 1322 2837 1330 2871 C1338 2904 1338 2954 1340 2971" fill="none" stroke="#3c3c3c" stroke-width="14" stroke-linecap="round" stroke-linejoin="round" />
<path d="M640 3111 C627 3117 580 3137 560 3151 C540 3164 527 3184 520 3191" fill="none" stroke="#222" stroke-width="30" stroke-linecap="round" stroke-linejoin="round" />
<path d="M1060 3111 C1073 3117 1120 3137 1140 3151 C1160 3164 1173 3184 1180 3191" fill="none" stroke="#222" stroke-width="30" stroke-linecap="round" stroke-linejoin="round" />
</g>
<g filter="url(#bl2)">
<path d="M852 2133 C868 2133 890 2173 900 2191 C910 2209 910 2211 915 2241 C920 2271 926 2326 930 2371 C934 2416 937 2477 936 2511 C935 2544 930 2547 925 2571 C920 2594 911 2631 905 2651 C899 2670 905 2680 890 2686 C875 2691 831 2691 815 2686 C799 2680 802 2670 795 2651 C788 2631 779 2594 772 2571 C765 2547 754 2544 752 2511 C750 2477 754 2416 760 2371 C766 2326 782 2271 790 2241 C798 2211 795 2209 805 2191 C815 2173 836 2133 852 2133 Z" fill="#e9caca" />
<path d="M800 2226 L905 2226" fill="none" stroke="#f8f4f4" stroke-width="12" stroke-linecap="round" stroke-linejoin="round" />
<path d="M775 2349 L925 2349" fill="none" stroke="#f8f4f4" stroke-width="12" stroke-linecap="round" stroke-linejoin="round" />
<path d="M775 2506 L925 2506" fill="none" stroke="#f8f4f4" stroke-width="12" stroke-linecap="round" stroke-linejoin="round" />
<path d="M775 2659 L925 2659" fill="none" stroke="#f8f4f4" stroke-width="12" stroke-linecap="round" stroke-linejoin="round" />
<path d="M775 2337 L925 2337" fill="none" stroke="#7a7070" stroke-width="7" stroke-linecap="round" stroke-linejoin="round" />
<path d="M775 2493 L925 2493" fill="none" stroke="#7a7070" stroke-width="7" stroke-linecap="round" stroke-linejoin="round" />
<path d="M775 2647 L925 2647" fill="none" stroke="#7a7070" stroke-width="7" stroke-linecap="round" stroke-linejoin="round" />
<ellipse cx="697" cy="2250.6" rx="14" ry="24" fill="#e2521c" transform="rotate(-25 697 2250.6)" />
<ellipse cx="1006" cy="2240.6" rx="14" ry="24" fill="#e2521c" transform="rotate(25 1006 2240.6)" />
<path d="M420 2516 C430 2517 445 2521 455 2541 C465 2560 468 2599 480 2631 C492 2662 510 2701 530 2731 C550 2761 580 2774 600 2811 C620 2847 641 2909 650 2951 C659 2992 658 3036 652 3061 C646 3085 617 3086 615 3096 C613 3105 649 3112 640 3116 C631 3119 580 3118 560 3116 C540 3113 531 3096 520 3103 C509 3109 495 3128 492 3153 C489 3177 505 3221 502 3251 C499 3280 482 3304 472 3331 C462 3357 448 3389 440 3411 C432 3433 428 3436 425 3463 C422 3489 424 3553 420 3571 C416 3589 404 3589 400 3571 C396 3553 401 3503 398 3463 C395 3423 391 3379 380 3331 C369 3282 344 3211 332 3171 C320 3131 311 3113 310 3091 C309 3068 310 3047 325 3036 C340 3024 376 3025 400 3021 C424 3016 458 3036 470 3011 C482 2986 465 2904 470 2871 C475 2837 503 2841 500 2811 C497 2781 468 2731 450 2691 C432 2651 405 2597 395 2571 C385 2544 388 2542 392 2533 C396 2523 410 2514 420 2516 Z" fill="#f4e8e8" />
<path d="M1274 2516 C1264 2517 1249 2521 1239 2541 C1229 2560 1226 2599 1214 2631 C1202 2662 1184 2701 1164 2731 C1144 2761 1114 2774 1094 2811 C1074 2847 1053 2909 1044 2951 C1035 2992 1036 3036 1042 3061 C1048 3085 1077 3086 1079 3096 C1081 3105 1045 3112 1054 3116 C1063 3119 1114 3118 1134 3116 C1154 3113 1163 3096 1174 3103 C1185 3109 1199 3128 1202 3153 C1205 3177 1189 3221 1192 3251 C1195 3280 1212 3304 1222 3331 C1232 3357 1246 3389 1254 3411 C1262 3433 1266 3436 1269 3463 C1272 3489 1270 3553 1274 3571 C1278 3589 1290 3589 1294 3571 C1298 3553 1293 3503 1296 3463 C1299 3423 1303 3379 1314 3331 C1325 3282 1350 3211 1362 3171 C1374 3131 1383 3113 1384 3091 C1385 3068 1384 3047 1369 3036 C1354 3024 1318 3025 1294 3021 C1270 3016 1236 3036 1224 3011 C1212 2986 1229 2904 1224 2871 C1219 2837 1191 2841 1194 2811 C1197 2781 1226 2731 1244 2691 C1262 2651 1289 2597 1299 2571 C1309 2544 1306 2542 1302 2533 C1298 2523 1284 2514 1274 2516 Z" fill="#f4e8e8" />
<ellipse cx="420" cy="2545.6" rx="10" ry="12" fill="#9a8a8a" />
<ellipse cx="1252" cy="2542.6" rx="10" ry="12" fill="#9a8a8a" />
<ellipse cx="402" cy="3200.6" rx="12" ry="50" fill="#8a7a7a" transform="rotate(-5 402 3200.6)" />
<ellipse cx="1290" cy="3220.6" rx="12" ry="50" fill="#8a7a7a" transform="rotate(5 1290 3220.6)" />
<ellipse cx="600" cy="2992.6" rx="12" ry="18" fill="#3a3030" />
<ellipse cx="1090" cy="3010.6" rx="10" ry="16" fill="#3a3030" />
<ellipse cx="1215" cy="2985.6" rx="9" ry="12" fill="#5a5050" />
<ellipse cx="560" cy="2920.6" rx="40" ry="60" fill="#f3d8d8" />
<ellipse cx="1120" cy="2920.6" rx="40" ry="60" fill="#f3d8d8" />
<ellipse cx="720" cy="3210.6" rx="18" ry="45" fill="#f8f2f2" />
<ellipse cx="960" cy="3210.6" rx="18" ry="45" fill="#f8f2f2" />
<ellipse cx="855" cy="3035.6" rx="62" ry="30" fill="#d4501c" />
<ellipse cx="857" cy="3034.6" rx="42" ry="18" fill="#fbd23a" />
<ellipse cx="860" cy="3032.6" rx="22" ry="9" fill="#fff6d0" />
<ellipse cx="474" cy="1718" rx="34" ry="40" fill="#c0553a" transform="rotate(0 474 1718)" opacity="0.7"/>
<ellipse cx="474" cy="1712" rx="20" ry="24" fill="#f08424" />
<ellipse cx="476" cy="1706" rx="9" ry="11" fill="#ffd23a" />
</g>
<rect x="409" y="1660.6" width="166" height="136.5" fill="none" stroke="#1b6496" stroke-width="17.5"/>
</g>
<rect x="1339.4" y="146.4" width="388.9" height="815" filter="url(#noise)" style="mix-blend-mode:overlay" opacity="0.3"/>
<rect x="1752.2" y="140.8" width="389.8" height="848.5" fill="#000"/>
<rect x="1752.2" y="140.8" width="389.8" height="5.6" fill="#4a4a4a"/>
<rect x="1947.6" y="140.8" width="34.5" height="5" fill="#8a8a8a"/>
<circle cx="1956.6" cy="143.8" r="3" fill="#e0141e"/>
<g transform="translate(1742 130) scale(0.23770)" clip-path="url(#clipTR)">
<g filter="url(#bl4)">
<path d="M50 830 C78 787 178 748 250 740 C322 732 428 745 480 780 C532 815 536 913 560 950 C584 987 615 1025 625 1000 C635 975 621 867 622 800 C623 733 627 658 632 600 C637 542 639 502 650 450 C661 398 680 329 700 290 C720 251 745 231 770 215 C795 199 823 195 850 195 C877 195 905 199 930 215 C955 231 981 251 1000 290 C1019 329 1035 398 1045 450 C1055 502 1054 542 1058 600 C1062 658 1065 733 1066 800 C1067 867 1048 977 1062 1000 C1076 1023 1122 973 1150 940 C1178 907 1197 828 1230 800 C1263 772 1281 770 1350 770 C1419 770 1600 762 1645 800 C1690 838 1629 942 1620 1000 C1611 1058 1603 1092 1590 1150 C1577 1208 1558 1275 1540 1350 C1522 1425 1497 1520 1480 1600 C1463 1680 1451 1763 1440 1830 C1429 1897 1422 1930 1415 2000 C1408 2070 1408 2175 1400 2250 C1392 2325 1372 2383 1370 2450 C1368 2517 1380 2592 1390 2650 C1400 2708 1412 2742 1430 2800 C1448 2858 1482 2925 1500 3000 C1518 3075 1532 3167 1540 3250 C1548 3333 1548 3433 1550 3500 C1552 3567 1552 3600 1553 3650 C1554 3700 1789 3775 1555 3800 C1321 3825 383 3825 150 3800 C-83 3775 153 3700 155 3650 C157 3600 157 3567 160 3500 C163 3433 166 3333 175 3250 C184 3167 200 3075 215 3000 C230 2925 246 2858 265 2800 C284 2742 316 2708 330 2650 C344 2592 358 2517 350 2450 C342 2383 296 2325 280 2250 C264 2175 262 2070 255 2000 C248 1930 246 1913 235 1830 C224 1747 206 1597 190 1500 C174 1403 158 1333 140 1250 C122 1167 95 1070 80 1000 C65 930 22 873 50 830 Z" fill="#141414" stroke="#484848" stroke-width="6"/>
<path d="M95 812 C125 775 237 776 300 776 C363 776 435 783 472 812 C509 841 504 912 522 950 C540 988 562 1018 582 1040 C602 1062 627 1105 640 1082 C653 1059 650 964 660 900 C670 836 692 767 700 700 C708 633 656 533 705 500 C754 467 946 467 995 500 C1044 533 992 633 1000 700 C1008 767 1030 836 1040 900 C1050 964 1046 1060 1060 1082 C1074 1104 1102 1054 1122 1030 C1142 1006 1164 973 1182 940 C1200 907 1207 853 1232 830 C1257 807 1273 803 1332 800 C1391 797 1546 779 1586 812 C1626 845 1579 935 1570 1000 C1561 1065 1543 1133 1530 1200 C1517 1267 1502 1333 1490 1400 C1478 1467 1472 1528 1460 1600 C1448 1672 1431 1763 1420 1830 C1409 1897 1398 1938 1392 2000 C1386 2062 1394 2133 1385 2200 C1376 2267 1356 2342 1340 2400 C1324 2458 1292 2500 1290 2550 C1288 2600 1315 2650 1330 2700 C1345 2750 1367 2783 1380 2850 C1393 2917 1403 3008 1410 3100 C1417 3192 1418 3308 1420 3400 C1422 3492 1420 3583 1420 3650 C1420 3717 1607 3775 1420 3800 C1233 3825 487 3825 300 3800 C113 3775 300 3717 300 3650 C300 3583 300 3492 300 3400 C300 3308 297 3192 300 3100 C303 3008 312 2917 320 2850 C328 2783 335 2750 350 2700 C365 2650 410 2600 410 2550 C410 2500 368 2450 350 2400 C332 2350 313 2308 300 2250 C287 2192 277 2120 270 2050 C263 1980 266 1905 258 1830 C250 1755 235 1672 225 1600 C215 1528 209 1467 200 1400 C191 1333 183 1267 170 1200 C157 1133 132 1065 120 1000 C108 935 65 849 95 812 Z" fill="#807c7c" />
<ellipse cx="850" cy="355" rx="185" ry="170" fill="#6c6c6c" />
<path d="M345 1810 C368 1792 361 1755 400 1740 C439 1725 530 1728 580 1722 C630 1716 672 1722 700 1702 C728 1682 735 1642 745 1600 C755 1558 751 1483 760 1450 C769 1417 762 1408 800 1400 C838 1392 952 1367 990 1400 C1028 1433 1015 1547 1030 1600 C1045 1653 1069 1678 1078 1720 C1087 1762 1056 1820 1085 1850 C1114 1880 1209 1900 1250 1900 C1291 1900 1308 1833 1330 1850 C1352 1867 1377 1942 1385 2000 C1393 2058 1388 2133 1380 2200 C1372 2267 1370 2350 1340 2400 C1310 2450 1257 2487 1200 2500 C1143 2513 1058 2505 1000 2480 C942 2455 900 2355 850 2350 C800 2345 763 2458 700 2450 C637 2442 528 2317 470 2300 C412 2283 378 2358 350 2350 C322 2342 313 2300 300 2250 C287 2200 276 2117 270 2050 C264 1983 250 1890 262 1850 C274 1810 322 1828 345 1810 Z" fill="#886a70" />
<path d="M720 1110 C703 1105 677 1130 640 1150 C603 1170 538 1202 500 1232 C462 1262 435 1296 410 1332 C385 1368 366 1405 352 1450 C338 1495 331 1548 326 1600 C321 1652 320 1722 322 1760 C324 1798 327 1833 340 1830 C353 1827 360 1760 400 1742 C440 1724 530 1729 580 1722 C630 1715 672 1722 700 1702 C728 1682 746 1627 746 1600 C746 1573 718 1549 702 1542 C686 1535 657 1566 650 1556 C643 1546 650 1506 662 1480 C674 1454 705 1430 722 1400 C739 1370 759 1337 762 1300 C765 1263 749 1212 742 1180 C735 1148 737 1115 720 1110 Z" fill="#000" />
<path d="M985 1110 C999 1090 1028 1112 1060 1132 C1092 1152 1147 1202 1180 1232 C1213 1262 1238 1280 1260 1312 C1282 1344 1299 1374 1310 1422 C1321 1470 1322 1537 1326 1600 C1330 1663 1333 1753 1332 1800 C1331 1847 1342 1863 1320 1880 C1298 1897 1239 1905 1200 1900 C1161 1895 1105 1883 1084 1850 C1063 1817 1086 1742 1076 1700 C1066 1658 1036 1633 1022 1600 C1008 1567 994 1527 992 1500 C990 1473 1010 1460 1010 1440 C1010 1420 996 1412 990 1380 C984 1348 977 1295 976 1250 C975 1205 971 1130 985 1110 Z" fill="#000" />
<path d="M800 1160 C809 1123 841 1123 850 1160 C859 1197 859 1337 855 1380 C851 1423 835 1420 825 1420 C815 1420 799 1423 795 1380 C791 1337 791 1197 800 1160 Z" fill="#101010" />
<path d="M880 1250 C885 1233 920 1227 930 1240 C940 1253 945 1313 940 1330 C935 1347 910 1353 900 1340 C890 1327 875 1267 880 1250 Z" fill="#2a2a2a" />
<path d="M1000 1470 C1005 1465 1022 1446 1030 1440 C1038 1434 1042 1433 1045 1432" fill="none" stroke="#d8d0d0" stroke-width="8" stroke-linecap="round" stroke-linejoin="round" />
<path d="M830 1790 C833 1777 868 1763 880 1770 C892 1777 903 1817 900 1830 C897 1843 872 1857 860 1850 C848 1843 827 1803 830 1790 Z" fill="#1a1a1a" />
<path d="M850 525 C842 546 816 609 800 650 C784 691 762 750 755 770" fill="none" stroke="#262626" stroke-width="16" stroke-linecap="round" stroke-linejoin="round" />
<path d="M880 525 C887 546 906 609 920 650 C934 691 955 750 962 770" fill="none" stroke="#262626" stroke-width="16" stroke-linecap="round" stroke-linejoin="round" />
<path d="M690 800 C688 825 680 908 680 950 C680 992 688 1033 690 1050" fill="none" stroke="#4a4a4a" stroke-width="16" stroke-linecap="round" stroke-linejoin="round" />
<path d="M1020 800 C1022 825 1034 908 1035 950 C1036 992 1027 1033 1025 1050" fill="none" stroke="#4a4a4a" stroke-width="16" stroke-linecap="round" stroke-linejoin="round" />
<path d="M430 1060 C447 1047 512 1068 540 1080 C568 1092 603 1110 600 1130 C597 1150 547 1195 520 1200 C493 1205 455 1183 440 1160 C425 1137 413 1073 430 1060 Z" fill="#262626" />
<path d="M1130 1140 C1138 1123 1203 1092 1230 1090 C1257 1088 1283 1112 1290 1130 C1297 1148 1288 1190 1270 1200 C1252 1210 1203 1200 1180 1190 C1157 1180 1122 1157 1130 1140 Z" fill="#262626" />
<path d="M270 1150 C272 1172 273 1238 280 1280 C287 1322 305 1380 310 1400" fill="none" stroke="#333" stroke-width="12" stroke-linecap="round" stroke-linejoin="round" />
<path d="M1420 1180 C1417 1200 1407 1260 1400 1300 C1393 1340 1383 1400 1380 1420" fill="none" stroke="#3c3c3c" stroke-width="10" stroke-linecap="round" stroke-linejoin="round" />
<path d="M300 1380 C305 1392 322 1433 330 1450 C338 1467 347 1475 350 1480" fill="none" stroke="#222" stroke-width="14" stroke-linecap="round" stroke-linejoin="round" />
</g>
<g filter="url(#bl2)">
<path d="M830 205 C856 205 895 208 920 220 C945 232 966 253 980 275 C994 297 1003 324 1006 350 C1009 376 1008 408 1000 430 C992 452 977 469 960 480 C943 491 916 495 900 495 C884 495 878 482 866 482 C854 482 848 494 830 495 C812 496 780 494 760 485 C740 476 723 461 712 440 C701 419 694 387 695 360 C696 333 703 303 715 280 C727 257 746 234 765 222 C784 210 804 205 830 205 Z" fill="#f6f2f2" />
<path d="M840 240 C865 237 890 240 910 250 C930 260 949 280 960 300 C971 320 976 347 975 370 C974 393 968 424 955 440 C942 456 915 463 900 465 C885 467 878 450 866 450 C854 450 846 464 830 465 C814 466 787 466 770 455 C753 444 738 421 730 400 C722 379 720 352 725 330 C730 308 741 285 760 270 C779 255 815 243 840 240 Z" fill="#f2c4c4" />
<ellipse cx="792" cy="330" rx="46" ry="44" fill="#e8562a" />
<ellipse cx="800" cy="322" rx="24" ry="20" fill="#f0a030" />
<ellipse cx="900" cy="322" rx="46" ry="46" fill="#e04a2c" />
<ellipse cx="915" cy="345" rx="22" ry="22" fill="#f08a30" />
<ellipse cx="795" cy="410" rx="24" ry="22" fill="#d0402c" />
<ellipse cx="915" cy="432" rx="28" ry="24" fill="#f09a9a" />
<ellipse cx="810" cy="365" rx="16" ry="22" fill="#8a6a6a" />
<ellipse cx="845" cy="635" rx="22" ry="36" fill="#f6f2f2" />
<ellipse cx="845" cy="712" rx="20" ry="30" fill="#f6f2f2" />
<path d="M845 758 C859 758 875 790 890 800 C905 810 924 802 935 815 C946 828 955 859 955 880 C955 901 936 920 935 940 C934 960 952 983 950 1000 C948 1017 922 1025 920 1040 C918 1055 940 1074 935 1090 C930 1106 910 1128 890 1135 C870 1142 834 1142 815 1135 C796 1128 780 1106 775 1090 C770 1074 789 1055 785 1040 C781 1025 753 1017 750 1000 C747 983 766 960 765 940 C764 920 743 901 742 880 C741 859 750 828 760 815 C770 802 791 810 805 800 C819 790 831 758 845 758 Z" fill="#f6f2f2" />
<path d="M845 790 C859 790 884 870 888 895 C892 920 880 932 870 940 C860 948 836 948 825 940 C814 932 803 920 806 895 C809 870 831 790 845 790 Z" fill="#5e444c" />
<ellipse cx="740" cy="1075" rx="30" ry="18" fill="#f6eeee" transform="rotate(-25 740 1075)" />
<ellipse cx="945" cy="1065" rx="30" ry="18" fill="#f6eeee" transform="rotate(25 945 1065)" />
<ellipse cx="450" cy="1005" rx="25" ry="36" fill="#fafafa" transform="rotate(-20 450 1005)" />
<ellipse cx="570" cy="1050" rx="32" ry="46" fill="#fafafa" transform="rotate(-22 570 1050)" />
<ellipse cx="1150" cy="1080" rx="38" ry="40" fill="#fafafa" transform="rotate(-20 1150 1080)" />
<ellipse cx="1265" cy="1050" rx="22" ry="32" fill="#f4f4f4" transform="rotate(30 1265 1050)" />
<path d="M300 868 C319 866 336 898 350 920 C364 942 380 973 385 1000 C390 1027 387 1058 378 1080 C369 1102 349 1128 330 1135 C311 1142 284 1135 265 1125 C246 1115 224 1094 215 1075 C206 1056 205 1034 208 1010 C211 986 220 954 235 930 C250 906 281 870 300 868 Z" fill="#f6f2f2" />
<ellipse cx="300" cy="965" rx="46" ry="56" fill="#2a2024" />
<path d="M1425 895 C1441 895 1458 928 1470 950 C1482 972 1497 1005 1500 1030 C1503 1055 1500 1080 1490 1100 C1480 1120 1458 1143 1440 1150 C1422 1157 1397 1150 1380 1140 C1363 1130 1346 1110 1340 1090 C1334 1070 1339 1043 1345 1020 C1351 997 1362 971 1375 950 C1388 929 1409 895 1425 895 Z" fill="#f6f2f2" />
<ellipse cx="1425" cy="990" rx="36" ry="56" fill="#2e2226" />
<ellipse cx="625" cy="1140" rx="42" ry="18" fill="#fbfbfb" transform="rotate(-28 625 1140)" />
<ellipse cx="500" cy="1235" rx="36" ry="18" fill="#fbfbfb" transform="rotate(-35 500 1235)" />
<ellipse cx="410" cy="1325" rx="29" ry="17" fill="#fbfbfb" transform="rotate(-50 410 1325)" />
<ellipse cx="350" cy="1425" rx="28" ry="16" fill="#fbfbfb" transform="rotate(-65 350 1425)" />
<ellipse cx="325" cy="1530" rx="28" ry="15" fill="#fbfbfb" transform="rotate(-80 325 1530)" />
<ellipse cx="318" cy="1620" rx="30" ry="15" fill="#fbfbfb" transform="rotate(-88 318 1620)" />
<ellipse cx="315" cy="1720" rx="30" ry="15" fill="#fbfbfb" transform="rotate(-90 315 1720)" />
<ellipse cx="312" cy="1815" rx="26" ry="14" fill="#fbfbfb" transform="rotate(-85 312 1815)" />
<ellipse cx="1060" cy="1120" rx="38" ry="17" fill="#fbfbfb" transform="rotate(35 1060 1120)" />
<ellipse cx="1170" cy="1225" rx="38" ry="18" fill="#fbfbfb" transform="rotate(38 1170 1225)" />
<ellipse cx="1255" cy="1300" rx="29" ry="17" fill="#fbfbfb" transform="rotate(50 1255 1300)" />
<ellipse cx="1315" cy="1400" rx="28" ry="16" fill="#fbfbfb" transform="rotate(70 1315 1400)" />
<ellipse cx="1328" cy="1500" rx="28" ry="15" fill="#fbfbfb" transform="rotate(85 1328 1500)" />
<ellipse cx="1332" cy="1600" rx="30" ry="15" fill="#fbfbfb" transform="rotate(90 1332 1600)" />
<ellipse cx="1336" cy="1710" rx="30" ry="14" fill="#fbfbfb" transform="rotate(90 1336 1710)" />
<ellipse cx="1336" cy="1815" rx="28" ry="14" fill="#fbfbfb" transform="rotate(90 1336 1815)" />
<ellipse cx="305" cy="1857.6575" rx="35" ry="15" fill="#fbfbfb" transform="rotate(-75 305 1857.6575)" />
<ellipse cx="280" cy="2027.1950000000002" rx="35" ry="16" fill="#fbfbfb" transform="rotate(-88 280 2027.1950000000002)" />
<ellipse cx="290" cy="2212.145" rx="30" ry="14" fill="#fbfbfb" transform="rotate(-88 290 2212.145)" />
<ellipse cx="1335" cy="1831.97" rx="32" ry="14" fill="#fbfbfb" transform="rotate(88 1335 1831.97)" />
<ellipse cx="1345" cy="2011.7825000000003" rx="38" ry="15" fill="#fbfbfb" transform="rotate(90 1345 2011.7825000000003)" />
<ellipse cx="1350" cy="2176.1825" rx="32" ry="14" fill="#fbfbfb" transform="rotate(92 1350 2176.1825)" />
</g>
<g filter="url(#bl4)">
<path d="M420 2222 C435 2181 490 2176 520 2161 C550 2146 578 2108 600 2132 C622 2156 633 2250 650 2305 C667 2359 708 2414 700 2459 C692 2503 623 2529 600 2572 C577 2615 582 2705 560 2716 C538 2726 492 2685 470 2633 C448 2582 438 2476 430 2407 C422 2339 405 2264 420 2222 Z" fill="#2b2426" />
<path d="M1040 2120 C1058 2105 1137 2104 1160 2118 C1183 2131 1198 2187 1180 2202 C1162 2216 1073 2218 1050 2204 C1027 2190 1022 2134 1040 2120 Z" fill="#2b2426" />
<path d="M990 2305 C1008 2284 1108 2269 1130 2286 C1152 2303 1138 2387 1120 2407 C1102 2428 1042 2427 1020 2409 C998 2392 972 2325 990 2305 Z" fill="#2b2426" />
<path d="M1220 1832 C1236 1815 1301 1832 1320 1894 C1339 1955 1345 2139 1332 2202 C1319 2265 1254 2291 1242 2274 C1230 2257 1265 2145 1262 2099 C1259 2053 1229 2041 1222 1996 C1215 1952 1204 1849 1220 1832 Z" fill="#3a3234" />
<path d="M830 1811 C838 1829 868 1866 880 1914 C892 1962 902 2043 900 2099 C898 2156 875 2228 870 2253" fill="none" stroke="#4a3e40" stroke-width="22" stroke-linecap="round" stroke-linejoin="round" />
<path d="M900 1945 C917 1940 963 1916 1000 1914 C1037 1912 1100 1931 1120 1935" fill="none" stroke="#4a3e40" stroke-width="18" stroke-linecap="round" stroke-linejoin="round" />
<path d="M430 2592 C450 2596 535 2685 560 2716 C585 2746 590 2770 580 2777 C570 2784 523 2770 500 2757 C477 2743 452 2722 440 2695 C428 2668 410 2589 430 2592 Z" fill="#1e1e1e" />
<path d="M1100 2633 C1123 2606 1207 2561 1230 2572 C1253 2582 1255 2661 1240 2695 C1225 2729 1165 2770 1140 2777 C1115 2784 1097 2760 1090 2736 C1083 2712 1077 2661 1100 2633 Z" fill="#1e1e1e" />
<path d="M800 1791 C892 1722 1240 1714 1330 1791 C1420 1868 1355 2123 1340 2253 C1325 2383 1280 2495 1240 2572 C1200 2649 1157 2726 1100 2716 C1043 2705 953 2596 900 2510 C847 2424 797 2322 780 2202 C763 2082 708 1859 800 1791 Z" fill="#000" filter="url(#mottle)"/>
<path d="M400 2181 C445 2096 647 2044 700 2099 C753 2154 743 2399 720 2510 C697 2621 608 2750 560 2767 C512 2784 457 2710 430 2613 C403 2515 355 2267 400 2181 Z" fill="#000" filter="url(#mottle)"/>
<path d="M650 2716 C712 2654 948 2654 1010 2716 C1072 2777 1082 3024 1020 3086 C958 3147 702 3147 640 3086 C578 3024 588 2777 650 2716 Z" fill="#000" filter="url(#mottle)"/>
<path d="M620 2510 C645 2474 717 2431 742 2448 C767 2466 772 2551 772 2613 C772 2675 761 2767 742 2818 C723 2870 684 2921 660 2921 C636 2921 612 2861 600 2818 C588 2776 587 2716 590 2664 C593 2613 595 2546 620 2510 Z" fill="#8a8a8a" />
<path d="M900 2469 C923 2459 1008 2510 1040 2551 C1072 2592 1088 2663 1092 2716 C1096 2769 1081 2835 1062 2870 C1043 2904 1002 2938 980 2921 C958 2904 943 2818 930 2767 C917 2716 907 2663 902 2613 C897 2563 877 2479 900 2469 Z" fill="#8a8a8a" />
<path d="M700 2716 C732 2669 787 2695 830 2695 C873 2695 931 2669 960 2716 C989 2762 1002 2913 1002 2972 C1002 3032 991 3062 962 3075 C933 3089 874 3055 830 3055 C786 3055 732 3089 700 3075 C668 3062 640 3032 640 2972 C640 2913 668 2762 700 2716 Z" fill="#5c4c50" />
<path d="M770 2716 C777 2695 818 2697 830 2716 C842 2734 847 2808 840 2829 C833 2849 802 2858 790 2839 C778 2820 763 2736 770 2716 Z" fill="#1c1616" />
<path d="M640 2942 C658 2925 737 2911 760 2921 C783 2931 790 2979 780 3003 C770 3027 722 3062 700 3065 C678 3068 660 3044 650 3024 C640 3003 622 2959 640 2942 Z" fill="#241c1e" />
<path d="M900 2942 C913 2930 985 2935 1000 2952 C1015 2969 1003 3032 990 3044 C977 3056 935 3041 920 3024 C905 3007 887 2954 900 2942 Z" fill="#3a3032" />
<path d="M770 3178 C798 3142 902 3142 930 3178 C958 3214 962 3358 935 3394 C908 3430 792 3430 765 3394 C738 3358 742 3214 770 3178 Z" fill="#7a6468" />
<path d="M730 3406 C767 3377 923 3377 960 3406 C997 3435 954 3523 952 3579 C950 3635 984 3716 950 3743 C916 3771 780 3771 745 3743 C710 3716 742 3635 740 3579 C738 3523 693 3435 730 3406 Z" fill="#0a0a0a" />
<path d="M800 3455 C811 3445 870 3445 880 3455 C890 3466 867 3510 860 3517 C853 3524 848 3497 840 3497 C832 3497 822 3524 815 3517 C808 3510 789 3466 800 3455 Z" fill="#4a4a4a" />
<path d="M380 2972 C375 2990 357 3041 350 3075 C343 3109 342 3161 340 3178" fill="none" stroke="#3c3c3c" stroke-width="14" stroke-linecap="round" stroke-linejoin="round" />
<path d="M1310 2972 C1315 2990 1333 3041 1340 3075 C1347 3109 1348 3161 1350 3178" fill="none" stroke="#3c3c3c" stroke-width="14" stroke-linecap="round" stroke-linejoin="round" />
<path d="M500 3250 C493 3258 468 3277 460 3301 C452 3325 452 3378 450 3394" fill="none" stroke="#1a1a1a" stroke-width="34" stroke-linecap="round" stroke-linejoin="round" />
<path d="M1180 3250 C1187 3258 1210 3277 1220 3301 C1230 3325 1237 3378 1240 3394" fill="none" stroke="#1a1a1a" stroke-width="34" stroke-linecap="round" stroke-linejoin="round" />
<path d="M400 3435 C402 3452 405 3510 410 3538 C415 3565 427 3589 430 3599" fill="none" stroke="#1c1c1c" stroke-width="30" stroke-linecap="round" stroke-linejoin="round" />
<path d="M1290 3435 C1292 3452 1297 3510 1300 3538 C1303 3565 1308 3589 1310 3599" fill="none" stroke="#1c1c1c" stroke-width="30" stroke-linecap="round" stroke-linejoin="round" />
</g>
<g filter="url(#bl2)">
<path d="M830 2371 C844 2371 864 2384 872 2397 C880 2410 875 2430 880 2448 C885 2467 896 2484 900 2510 C904 2536 905 2579 902 2603 C899 2627 892 2642 880 2654 C868 2666 846 2677 830 2677 C814 2677 794 2666 782 2654 C770 2642 763 2627 760 2603 C757 2579 761 2536 765 2510 C769 2484 778 2467 782 2448 C786 2430 782 2410 790 2397 C798 2384 816 2371 830 2371 Z" fill="#f6f6f6" />
<path d="M806 2479 L856 2479 L856 2541 L806 2541 Z" fill="#b4b4b4" />
<path d="M345 2664 C351 2649 389 2625 405 2644 C421 2663 421 2738 440 2777 C459 2817 493 2847 520 2880 C547 2913 578 2938 600 2972 C622 3007 640 3051 650 3086 C660 3120 664 3160 660 3178 C656 3196 635 3202 625 3193 C615 3185 608 3126 600 3127 C592 3127 593 3181 580 3199 C567 3216 535 3214 520 3229 C505 3245 493 3267 490 3291 C487 3315 508 3353 500 3373 C492 3394 459 3404 440 3414 C421 3425 402 3449 385 3435 C368 3421 352 3366 340 3332 C328 3298 312 3257 310 3229 C308 3202 310 3192 330 3168 C350 3144 408 3118 430 3086 C452 3053 462 3014 460 2972 C458 2931 435 2878 420 2839 C405 2800 382 2765 370 2736 C358 2707 339 2680 345 2664 Z" fill="#f6f2f2" />
<path d="M1339 2664 C1333 2649 1295 2625 1279 2644 C1263 2663 1263 2738 1244 2777 C1225 2817 1191 2847 1164 2880 C1137 2913 1106 2938 1084 2972 C1062 3007 1044 3051 1034 3086 C1024 3120 1020 3160 1024 3178 C1028 3196 1049 3202 1059 3193 C1069 3185 1076 3126 1084 3127 C1092 3127 1091 3181 1104 3199 C1117 3216 1149 3214 1164 3229 C1179 3245 1191 3267 1194 3291 C1197 3315 1176 3353 1184 3373 C1192 3394 1225 3404 1244 3414 C1263 3425 1282 3449 1299 3435 C1316 3421 1332 3366 1344 3332 C1356 3298 1372 3257 1374 3229 C1376 3202 1374 3192 1354 3168 C1334 3144 1276 3118 1254 3086 C1232 3053 1222 3014 1224 2972 C1226 2931 1249 2878 1264 2839 C1279 2800 1302 2765 1314 2736 C1326 2707 1345 2680 1339 2664 Z" fill="#f6f2f2" />
<path d="M372 2675 C372 2662 386 2660 392 2672 C398 2684 405 2734 405 2746 C405 2759 398 2758 392 2746 C386 2734 372 2687 372 2675 Z" fill="#6a6a6a" />
<path d="M1312 2675 C1312 2662 1298 2660 1292 2672 C1286 2684 1279 2734 1279 2746 C1279 2759 1286 2758 1292 2746 C1298 2734 1312 2687 1312 2675 Z" fill="#6a6a6a" />
<ellipse cx="385" cy="3301.295" rx="14" ry="40" fill="#9a9090" transform="rotate(-10 385 3301.295)" />
<ellipse cx="1300" cy="3301.295" rx="14" ry="40" fill="#8a8080" transform="rotate(10 1300 3301.295)" />
<ellipse cx="610" cy="3085.5200000000004" rx="10" ry="40" fill="#4a4040" transform="rotate(-10 610 3085.5200000000004)" />
<ellipse cx="1075" cy="3085.5200000000004" rx="10" ry="40" fill="#4a4040" transform="rotate(10 1075 3085.5200000000004)" />
<ellipse cx="740" cy="3321.8450000000003" rx="20" ry="46" fill="#f8f6f6" />
<ellipse cx="948" cy="3321.8450000000003" rx="20" ry="46" fill="#f8f6f6" />
<ellipse cx="740" cy="3326.9825" rx="7" ry="22" fill="#5a5050" />
<ellipse cx="948" cy="3326.9825" rx="7" ry="22" fill="#5a5050" />
<ellipse cx="850" cy="3131.7575" rx="88" ry="42" fill="#d8401c" />
<ellipse cx="850" cy="3131.7575" rx="62" ry="26" fill="#f0901c" />
<ellipse cx="852" cy="3131.7575" rx="38" ry="14" fill="#e8c81c" />
</g>
<rect x="410" y="1719" width="165" height="140" fill="none" stroke="#1b6496" stroke-width="17.7"/>
</g>
<rect x="1752.2" y="146.4" width="389.8" height="838" filter="url(#noise)" style="mix-blend-mode:overlay" opacity="0.3"/>
<rect x="1339.3" y="1013.5" width="388.4" height="379.8" fill="#000"/>
<rect x="1339.3" y="1013.5" width="388.4" height="2" fill="#2a2a2a"/>
<circle cx="1537" cy="1014.8" r="2" fill="#c01018"/>
<g transform="translate(1330 1005) scale(0.24004)" clip-path="url(#clipBL)">
<g filter="url(#bl4)">
<path d="M85 800 C82 745 88 697 100 650 C112 603 132 558 160 520 C188 482 227 448 270 420 C313 392 365 368 420 350 C475 332 543 315 600 310 C657 305 723 314 760 320 C797 326 797 345 820 345 C843 345 862 328 900 320 C938 312 995 298 1050 300 C1105 302 1175 310 1230 330 C1285 350 1338 385 1380 420 C1422 455 1452 493 1480 540 C1508 587 1532 648 1545 700 C1558 752 1559 800 1555 850 C1551 900 1539 953 1520 1000 C1501 1047 1477 1092 1440 1130 C1403 1168 1357 1202 1300 1230 C1243 1258 1180 1283 1100 1300 C1020 1317 910 1330 820 1330 C730 1330 638 1317 560 1300 C482 1283 410 1260 350 1230 C290 1200 239 1162 200 1120 C161 1078 134 1033 115 980 C96 927 88 855 85 800 Z" fill="#151515" stroke="#5a5a5a" stroke-width="7"/>
<path d="M125 800 C123 749 128 702 140 660 C152 618 169 579 195 545 C221 511 256 480 295 455 C334 430 379 409 430 392 C481 375 545 359 600 355 C655 351 723 361 760 368 C797 375 797 395 820 395 C843 395 862 374 900 366 C938 358 997 344 1050 345 C1103 346 1168 354 1220 372 C1272 390 1322 423 1360 455 C1398 487 1425 523 1450 565 C1475 607 1497 658 1508 705 C1519 752 1520 803 1515 850 C1510 897 1498 942 1480 985 C1462 1028 1439 1070 1405 1105 C1371 1140 1328 1169 1275 1195 C1222 1221 1166 1246 1090 1262 C1014 1278 907 1290 820 1290 C733 1290 645 1278 570 1262 C495 1246 427 1223 370 1195 C313 1167 266 1133 230 1095 C194 1057 170 1014 152 965 C134 916 127 851 125 800 Z" fill="#707070" />
<path d="M195 800 C194 753 200 700 212 660 C224 620 244 589 270 560 C296 531 328 505 370 485 C412 465 465 448 520 440 C575 432 655 435 700 440 C745 445 768 468 790 470 C812 472 812 462 830 455 C848 448 863 436 900 425 C937 414 996 394 1050 392 C1104 390 1177 394 1225 410 C1273 426 1308 453 1340 485 C1372 517 1401 556 1420 600 C1439 644 1451 700 1455 750 C1459 800 1457 853 1445 900 C1433 947 1412 992 1385 1030 C1358 1068 1326 1103 1285 1130 C1244 1157 1186 1181 1140 1190 C1094 1199 1042 1197 1010 1185 C978 1173 963 1141 945 1120 C927 1099 931 1070 900 1060 C869 1050 791 1050 760 1060 C729 1070 733 1099 715 1120 C697 1141 679 1169 650 1185 C621 1201 582 1219 540 1215 C498 1211 442 1185 400 1160 C358 1135 320 1102 290 1065 C260 1028 236 984 220 940 C204 896 196 847 195 800 Z" fill="#000" />
<ellipse cx="560" cy="402" rx="95" ry="22" fill="#b4b4b4" />
<ellipse cx="725" cy="412" rx="48" ry="22" fill="#bdbdbd" />
<ellipse cx="890" cy="396" rx="46" ry="24" fill="#c4c4c4" />
<ellipse cx="1040" cy="384" rx="85" ry="22" fill="#b0b0b0" />
<path d="M600 1225 C607 1207 662 1184 700 1180 C738 1176 787 1200 830 1200 C873 1200 920 1176 960 1180 C1000 1184 1063 1207 1070 1225 C1077 1243 1040 1276 1000 1290 C960 1304 887 1310 830 1310 C773 1310 698 1304 660 1290 C622 1276 593 1243 600 1225 Z" fill="#7a7a7a" />
<path d="M245 760 C248 723 254 685 270 660 C286 635 313 623 340 612 C367 601 397 596 430 596 C463 596 505 612 540 610 C575 608 610 598 640 586 C670 574 697 544 722 540 C747 536 775 543 792 560 C809 577 815 613 822 640 C829 667 834 693 832 720 C830 747 830 778 812 800 C794 822 750 830 722 852 C694 874 659 902 642 930 C625 958 635 995 622 1020 C609 1045 586 1068 562 1080 C538 1092 510 1097 480 1092 C450 1087 410 1070 380 1052 C350 1034 321 1011 300 982 C279 953 264 917 255 880 C246 843 242 797 245 760 Z" fill="#86747a" />
<path d="M730 540 C736 518 772 497 800 482 C828 467 858 459 900 452 C942 445 1008 437 1050 440 C1092 443 1122 450 1150 470 C1178 490 1206 525 1216 560 C1226 595 1223 645 1212 680 C1201 715 1177 748 1152 770 C1127 792 1091 808 1062 812 C1033 816 1007 807 980 792 C953 777 926 744 900 722 C874 700 845 680 822 662 C799 644 777 632 762 612 C747 592 724 562 730 540 Z" fill="#7d7074" />
<ellipse cx="1075" cy="630" rx="105" ry="150" fill="#c8504c" transform="rotate(20 1075 630)" opacity="0.8" filter="url(#bl20)"/>
<path d="M720 560 C733 573 773 617 800 640 C827 663 867 690 880 700" fill="none" stroke="#3a3436" stroke-width="14" stroke-linecap="round" stroke-linejoin="round" />
<ellipse cx="912" cy="892" rx="38" ry="46" fill="#8c8c8c" />
<ellipse cx="842" cy="850" rx="28" ry="26" fill="#8a8a8a" />
<ellipse cx="836" cy="850" rx="9" ry="8" fill="#111" />
<path d="M1230 790 C1233 798 1240 833 1250 840 C1260 847 1283 832 1290 830" fill="none" stroke="#2c2c2c" stroke-width="8" stroke-linecap="round" stroke-linejoin="round" />
<path d="M1250 840 L1240 880" fill="none" stroke="#2a2a2a" stroke-width="8" stroke-linecap="round" stroke-linejoin="round" />
</g>
<g filter="url(#bl2)">
<path d="M830 930 C850 930 878 943 890 960 C902 977 898 1010 905 1030 C912 1050 914 1063 930 1080 C946 1097 995 1116 1000 1130 C1005 1144 982 1160 962 1162 C942 1164 899 1140 880 1140 C861 1140 856 1140 850 1160 C844 1180 852 1245 846 1262 C840 1279 820 1279 814 1262 C808 1245 816 1180 810 1160 C804 1140 798 1140 780 1140 C762 1140 720 1164 700 1162 C680 1160 655 1144 660 1130 C665 1116 714 1097 730 1080 C746 1063 748 1050 755 1030 C762 1010 758 977 770 960 C782 943 810 930 830 930 Z" fill="#f6efef" />
<ellipse cx="830" cy="1010" rx="52" ry="55" fill="#f0d4d6" />
<ellipse cx="826" cy="1108" rx="20" ry="19" fill="#6a6266" />
<ellipse cx="805" cy="436" rx="19" ry="17" fill="#fff" />
<ellipse cx="232" cy="562" rx="15" ry="56" fill="#fbfbfb" transform="rotate(32 232 562)" />
<ellipse cx="176" cy="762" rx="14" ry="56" fill="#fbfbfb" />
<ellipse cx="216" cy="932" rx="15" ry="50" fill="#fbfbfb" transform="rotate(-20 216 932)" />
<ellipse cx="335" cy="1118" rx="20" ry="78" fill="#fbfbfb" transform="rotate(-45 335 1118)" />
<ellipse cx="615" cy="1178" rx="100" ry="20" fill="#fbfbfb" transform="rotate(-24 615 1178)" />
<ellipse cx="1400" cy="560" rx="13" ry="52" fill="#fbfbfb" transform="rotate(-32 1400 560)" />
<ellipse cx="1450" cy="722" rx="14" ry="56" fill="#fbfbfb" />
<ellipse cx="1422" cy="892" rx="14" ry="52" fill="#fbfbfb" transform="rotate(16 1422 892)" />
<ellipse cx="1312" cy="1102" rx="18" ry="62" fill="#fbfbfb" transform="rotate(42 1312 1102)" />
<ellipse cx="1060" cy="1172" rx="100" ry="20" fill="#fbfbfb" transform="rotate(22 1060 1172)" />
<ellipse cx="352" cy="850" rx="46" ry="44" fill="#c2452f" transform="rotate(0 352 850)" opacity="0.85"/>
<ellipse cx="352" cy="848" rx="28" ry="27" fill="#f0701c" />
<ellipse cx="350" cy="846" rx="13" ry="12" fill="#ffd02a" />
</g>
<rect x="277" y="779" width="165" height="137" fill="none" stroke="#1b6496" stroke-width="17.5"/>
<circle cx="825" cy="-170" r="1641" fill="none" stroke="#f4f4f4" stroke-width="9"/>
<circle cx="826" cy="7" r="1630" fill="none" stroke="#f4f4f4" stroke-width="9"/>
<path d="M45 1546 L125 1612" stroke="#eee" stroke-width="8" stroke-dasharray="10 12" fill="none"/>
<path d="M1655 1496 L1540 1606" stroke="#eee" stroke-width="8" stroke-dasharray="10 12" fill="none"/>
</g>
<rect x="1339.3" y="1060" width="388.4" height="270" filter="url(#noise)" style="mix-blend-mode:overlay" opacity="0.3"/>
<rect x="1752.2" y="1013.5" width="389.8" height="379.8" fill="#000"/>
<rect x="1752.2" y="1013.5" width="389.8" height="2" fill="#2a2a2a"/>
<circle cx="1944.5" cy="1014.8" r="2" fill="#c01018"/>
<g transform="translate(1742 1005) scale(0.23770)" clip-path="url(#clipBR)">
<g filter="url(#bl4)">
<path d="M75 760 C74 705 79 648 95 600 C111 552 136 510 170 470 C204 430 253 390 300 360 C347 330 397 308 450 290 C503 272 565 254 620 250 C675 246 744 257 780 265 C816 273 815 300 835 300 C855 300 864 277 900 265 C936 253 992 231 1050 230 C1108 229 1188 240 1250 260 C1312 280 1373 313 1420 350 C1467 387 1502 432 1530 480 C1558 528 1578 587 1590 640 C1602 693 1605 748 1600 800 C1595 852 1582 903 1560 950 C1538 997 1508 1042 1470 1080 C1432 1118 1387 1150 1330 1180 C1273 1210 1212 1240 1130 1260 C1048 1280 935 1298 840 1300 C745 1302 642 1288 560 1270 C478 1252 410 1222 350 1190 C290 1158 242 1123 200 1080 C158 1037 121 983 100 930 C79 877 76 815 75 760 Z" fill="#151515" stroke="#5a5a5a" stroke-width="7"/>
<path d="M112 760 C112 709 117 656 132 612 C147 568 168 531 200 495 C232 459 278 422 322 395 C366 368 412 347 462 330 C512 313 570 298 622 295 C674 292 740 303 775 312 C810 321 814 350 835 350 C856 350 864 324 900 312 C936 300 993 279 1050 278 C1107 277 1182 287 1240 305 C1298 323 1357 352 1400 385 C1443 418 1474 456 1500 500 C1526 544 1545 598 1555 648 C1565 698 1567 751 1562 800 C1557 849 1545 897 1525 940 C1505 983 1476 1025 1440 1060 C1404 1095 1361 1122 1308 1150 C1255 1178 1198 1206 1120 1225 C1042 1244 932 1260 840 1262 C748 1264 649 1252 570 1235 C491 1218 425 1188 368 1158 C311 1128 267 1095 228 1055 C189 1015 154 967 135 918 C116 869 112 811 112 760 Z" fill="#707070" />
<path d="M190 760 C188 714 193 665 205 625 C217 585 234 552 262 520 C290 488 327 458 370 435 C413 412 467 393 520 385 C573 377 645 380 690 385 C735 390 766 412 790 415 C814 418 817 407 835 400 C853 393 864 383 900 372 C936 361 994 338 1050 335 C1106 332 1182 339 1235 355 C1288 371 1332 398 1370 430 C1408 462 1440 500 1462 545 C1484 590 1494 649 1500 700 C1506 751 1505 802 1495 850 C1485 898 1466 946 1440 985 C1414 1024 1382 1058 1340 1085 C1298 1112 1240 1139 1190 1150 C1140 1161 1076 1160 1040 1150 C1004 1140 993 1112 975 1090 C957 1068 966 1032 930 1020 C894 1008 797 1009 760 1020 C723 1031 728 1063 710 1085 C692 1107 680 1134 650 1150 C620 1166 572 1185 530 1180 C488 1175 440 1146 400 1120 C360 1094 321 1062 290 1025 C259 988 232 944 215 900 C198 856 192 806 190 760 Z" fill="#000" />
<ellipse cx="600" cy="342" rx="95" ry="24" fill="#b4b4b4" />
<ellipse cx="752" cy="347" rx="42" ry="27" fill="#c0c0c0" />
<ellipse cx="900" cy="332" rx="46" ry="27" fill="#c4c4c4" />
<ellipse cx="1082" cy="330" rx="105" ry="24" fill="#b0b0b0" />
<path d="M600 1195 C605 1178 660 1153 700 1150 C740 1147 793 1175 840 1175 C887 1175 938 1147 980 1150 C1022 1153 1085 1178 1090 1195 C1095 1212 1052 1242 1010 1255 C968 1268 897 1275 840 1275 C783 1275 710 1268 670 1255 C630 1242 595 1212 600 1195 Z" fill="#7a7a7a" />
<path d="M225 760 C225 727 228 681 240 650 C252 619 273 590 300 572 C327 554 363 546 400 542 C437 538 480 547 520 550 C560 553 610 552 640 560 C670 568 682 585 702 600 C722 615 740 633 762 650 C784 667 822 678 832 700 C842 722 837 761 822 780 C807 799 769 797 742 812 C715 827 682 845 662 870 C642 895 635 933 622 960 C609 987 605 1015 582 1030 C559 1045 516 1055 482 1052 C448 1049 412 1032 380 1012 C348 992 313 959 290 932 C267 905 251 879 240 850 C229 821 225 793 225 760 Z" fill="#90777d" />
<path d="M700 520 C700 493 732 461 762 440 C792 419 834 403 880 392 C926 381 987 372 1040 372 C1093 372 1161 376 1200 392 C1239 408 1264 439 1276 470 C1288 501 1279 545 1272 580 C1265 615 1252 651 1232 680 C1212 709 1184 733 1152 752 C1120 771 1074 787 1042 792 C1010 797 984 794 960 782 C936 770 921 742 900 722 C879 702 855 682 832 662 C809 642 784 626 762 602 C740 578 700 547 700 520 Z" fill="#867679" />
<ellipse cx="1050" cy="620" rx="120" ry="120" fill="#9a7a80" transform="rotate(0 1050 620)" opacity="0.6"/>
<path d="M700 540 C715 557 760 610 790 640 C820 670 865 707 880 720" fill="none" stroke="#3a3436" stroke-width="14" stroke-linecap="round" stroke-linejoin="round" />
<ellipse cx="940" cy="872" rx="42" ry="50" fill="#8b7277" />
<ellipse cx="882" cy="822" rx="34" ry="27" fill="#a8a8a8" />
<ellipse cx="886" cy="823" rx="15" ry="10" fill="#080808" />
<ellipse cx="1185" cy="936" rx="36" ry="29" fill="#7b656a" />
<path d="M1280 760 C1285 767 1300 797 1310 800 C1320 803 1335 783 1340 780" fill="none" stroke="#262626" stroke-width="8" stroke-linecap="round" stroke-linejoin="round" />
<path d="M1310 800 L1300 850" fill="none" stroke="#242424" stroke-width="8" stroke-linecap="round" stroke-linejoin="round" />
</g>
<g filter="url(#bl2)">
<path d="M840 905 C860 905 887 914 900 930 C913 946 915 977 920 1000 C925 1023 918 1050 930 1070 C942 1090 981 1104 990 1120 C999 1136 1001 1159 986 1166 C971 1173 921 1158 900 1160 C879 1162 867 1162 860 1180 C853 1198 864 1252 858 1266 C852 1280 830 1280 824 1266 C818 1252 829 1198 822 1180 C815 1162 800 1159 780 1160 C760 1161 715 1189 700 1186 C685 1183 682 1158 690 1140 C698 1122 733 1103 745 1080 C757 1057 754 1025 760 1000 C766 975 767 946 780 930 C793 914 820 905 840 905 Z" fill="#f8f6f6" />
<ellipse cx="840" cy="1010" rx="50" ry="52" fill="#c6b4b7" />
<path d="M835 1074 L860 1100 L835 1126 L810 1100 Z" fill="#5a5054" />
<ellipse cx="830" cy="376" rx="21" ry="19" fill="#fff" />
<ellipse cx="226" cy="472" rx="16" ry="52" fill="#fbfbfb" transform="rotate(36 226 472)" />
<ellipse cx="166" cy="662" rx="17" ry="52" fill="#fbfbfb" />
<ellipse cx="196" cy="852" rx="18" ry="50" fill="#fbfbfb" transform="rotate(-15 196 852)" />
<ellipse cx="302" cy="1082" rx="22" ry="72" fill="#fbfbfb" transform="rotate(-40 302 1082)" />
<ellipse cx="565" cy="1186" rx="90" ry="22" fill="#fbfbfb" transform="rotate(-18 565 1186)" />
<ellipse cx="1400" cy="422" rx="14" ry="62" fill="#fbfbfb" transform="rotate(-40 1400 422)" />
<ellipse cx="1506" cy="642" rx="16" ry="56" fill="#fbfbfb" />
<ellipse cx="1482" cy="832" rx="16" ry="56" fill="#fbfbfb" transform="rotate(10 1482 832)" />
<ellipse cx="1400" cy="1042" rx="20" ry="66" fill="#fbfbfb" transform="rotate(30 1400 1042)" />
<ellipse cx="1130" cy="1182" rx="95" ry="22" fill="#fbfbfb" transform="rotate(15 1130 1182)" />
<ellipse cx="166" cy="662" rx="6" ry="28" fill="#555" />
<ellipse cx="1506" cy="642" rx="6" ry="30" fill="#555" />
</g>
<rect x="289" y="764" width="164" height="137" fill="none" stroke="#1b6496" stroke-width="17.7"/>
<circle cx="869" cy="-226" r="1692" fill="none" stroke="#f4f4f4" stroke-width="9"/>
<circle cx="869" cy="-166" r="1788" fill="none" stroke="#f4f4f4" stroke-width="9"/>
<path d="M45 1578 L105 1632" stroke="#eee" stroke-width="8" stroke-dasharray="10 12" fill="none"/>
<path d="M1685 1588 L1640 1632" stroke="#eee" stroke-width="8" stroke-dasharray="10 12" fill="none"/>
</g>
<rect x="1752.2" y="1050" width="389.8" height="270" filter="url(#noise)" style="mix-blend-mode:overlay" opacity="0.3"/>
</g>
</svg>
</body></html>
